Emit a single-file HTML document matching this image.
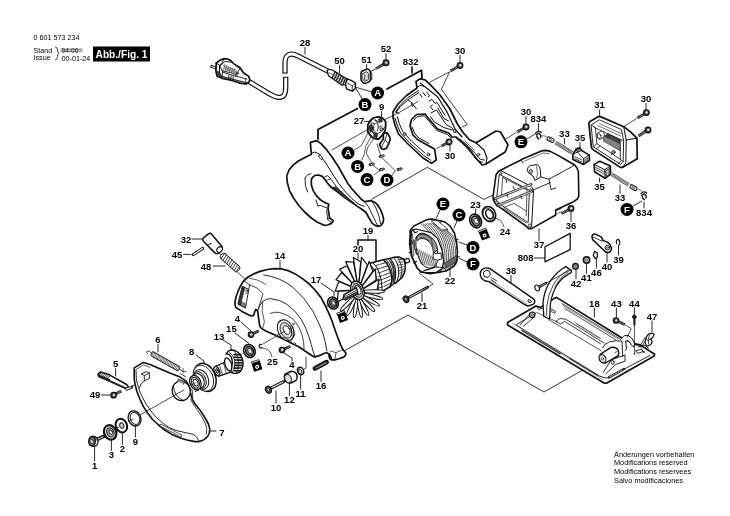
<!DOCTYPE html>
<html><head><meta charset="utf-8"><title>0 601 573 234</title>
<style>
html,body{margin:0;padding:0;background:#fff;}
body{width:730px;height:516px;overflow:hidden;position:relative;font-family:"Liberation Sans",sans-serif;}
svg{position:absolute;left:0;top:0;display:block;filter:grayscale(1);}
svg text{font-family:"Liberation Sans",sans-serif;}
</style></head><body>
<svg width="730" height="516" viewBox="0 0 730 516" stroke-linejoin="round" stroke-linecap="round">
<text x="33.5" y="40.3" font-size="7.2" font-weight="normal" text-anchor="start" fill="#000">0 601 573 234</text>
<text x="33.5" y="53.2" font-size="7.2" font-weight="normal" text-anchor="start" fill="#000">Stand</text>
<text x="33.5" y="60.4" font-size="7.2" font-weight="normal" text-anchor="start" fill="#000">Issue</text>
<text x="61.5" y="53.4" font-size="6.6" font-weight="normal" text-anchor="start" fill="#333">94-06</text>
<polyline points="61,49.2 82,49.2" fill="none" stroke="#333" stroke-width="0.75" />
<polyline points="61,51.2 82,51.2" fill="none" stroke="#333" stroke-width="0.75" />
<text x="61.5" y="60.8" font-size="7.2" font-weight="normal" text-anchor="start" fill="#000">00-01-24</text>
<path d="M55.5,47 q2.2,0.3 2,3 q-0.2,2.6 1.6,3.2 q-1.8,0.6 -1.6,3.2 q0.2,3 -2,3.6" fill="none" stroke="#111" stroke-width="0.8" />
<rect x="93" y="46.5" width="57" height="15" fill="#000"/>
<g transform="translate(121.5 0) scale(0.9 1)">
<text x="0" y="58.3" font-size="11.3" font-weight="bold" text-anchor="middle" fill="#fff">Abb./Fig. 1</text>
</g>
<text x="614" y="456.6" font-size="7.35" font-weight="normal" text-anchor="start" fill="#000">Änderungen vorbehalten</text>
<text x="614" y="465.3" font-size="7.35" font-weight="normal" text-anchor="start" fill="#000">Modifications reserved</text>
<text x="614" y="474.0" font-size="7.35" font-weight="normal" text-anchor="start" fill="#000">Modifications reservees</text>
<text x="614" y="482.7" font-size="7.35" font-weight="normal" text-anchor="start" fill="#000">Salvo modificaciones</text>
<polyline points="372,199 427.3,167.3 484,199.4 494,194.5" fill="none" stroke="#111" stroke-width="0.85" />
<polyline points="345,350.5 408,315 544,392 604,358" fill="none" stroke="#111" stroke-width="0.85" />
<text x="305" y="46.4" font-size="9.5" font-weight="bold" text-anchor="middle" fill="#000">28</text>
<polyline points="305,47.5 305,54" fill="none" stroke="#111" stroke-width="0.9" />
<text x="339.6" y="64.4" font-size="9.5" font-weight="bold" text-anchor="middle" fill="#000">50</text>
<polyline points="339.6,65.5 339.6,73" fill="none" stroke="#111" stroke-width="0.9" />
<text x="366.6" y="63.4" font-size="9.5" font-weight="bold" text-anchor="middle" fill="#000">51</text>
<polyline points="366.6,64.5 366.6,70" fill="none" stroke="#111" stroke-width="0.9" />
<text x="386" y="52.4" font-size="9.5" font-weight="bold" text-anchor="middle" fill="#000">52</text>
<polyline points="386,53.5 386,60" fill="none" stroke="#111" stroke-width="0.9" />
<text x="410.6" y="65.4" font-size="9.5" font-weight="bold" text-anchor="middle" fill="#000">832</text>
<text x="460" y="53.9" font-size="9.5" font-weight="bold" text-anchor="middle" fill="#000">30</text>
<polyline points="460,55.5 460,62.5" fill="none" stroke="#111" stroke-width="0.9" />
<text x="381.6" y="110.4" font-size="9.5" font-weight="bold" text-anchor="middle" fill="#000">9</text>
<polyline points="381.6,111.5 381.6,118" fill="none" stroke="#111" stroke-width="0.9" />
<text x="359" y="124.4" font-size="9.5" font-weight="bold" text-anchor="middle" fill="#000">27</text>
<polyline points="364.5,121.4 370,121.4" fill="none" stroke="#111" stroke-width="0.9" />
<text x="450" y="159.0" font-size="9.5" font-weight="bold" text-anchor="middle" fill="#000">30</text>
<polyline points="450,145 450,151" fill="none" stroke="#111" stroke-width="0.9" />
<text x="526" y="115.0" font-size="9.5" font-weight="bold" text-anchor="middle" fill="#000">30</text>
<polyline points="526,116.5 526,124" fill="none" stroke="#111" stroke-width="0.9" />
<text x="538.4" y="122.0" font-size="9.5" font-weight="bold" text-anchor="middle" fill="#000">834</text>
<polyline points="538.4,123.5 538.4,131" fill="none" stroke="#111" stroke-width="0.9" />
<text x="564.4" y="137.0" font-size="9.5" font-weight="bold" text-anchor="middle" fill="#000">33</text>
<polyline points="564.4,138.5 564.4,144" fill="none" stroke="#111" stroke-width="0.9" />
<text x="580" y="141.4" font-size="9.5" font-weight="bold" text-anchor="middle" fill="#000">35</text>
<polyline points="580,142.6 580,148" fill="none" stroke="#111" stroke-width="0.9" />
<text x="599.6" y="108.4" font-size="9.5" font-weight="bold" text-anchor="middle" fill="#000">31</text>
<polyline points="599.6,110 599.6,116" fill="none" stroke="#111" stroke-width="0.9" />
<text x="646" y="102.0" font-size="9.5" font-weight="bold" text-anchor="middle" fill="#000">30</text>
<polyline points="646,103.5 646,110" fill="none" stroke="#111" stroke-width="0.9" />
<text x="599.6" y="189.8" font-size="9.5" font-weight="bold" text-anchor="middle" fill="#000">35</text>
<polyline points="599.6,178 599.6,182" fill="none" stroke="#111" stroke-width="0.9" />
<text x="620" y="201.4" font-size="9.5" font-weight="bold" text-anchor="middle" fill="#000">33</text>
<polyline points="620,185 620,193.5" fill="none" stroke="#111" stroke-width="0.9" />
<text x="644" y="215.8" font-size="9.5" font-weight="bold" text-anchor="middle" fill="#000">834</text>
<polyline points="644,202 644,208" fill="none" stroke="#111" stroke-width="0.9" />
<text x="571" y="229.4" font-size="9.5" font-weight="bold" text-anchor="middle" fill="#000">36</text>
<polyline points="571,212 571,221.5" fill="none" stroke="#111" stroke-width="0.9" />
<text x="539" y="248.4" font-size="9.5" font-weight="bold" text-anchor="middle" fill="#000">37</text>
<polyline points="539,229 539,240.5" fill="none" stroke="#111" stroke-width="0.9" />
<text x="525.6" y="261.4" font-size="9.5" font-weight="bold" text-anchor="middle" fill="#000">808</text>
<polyline points="534.5,258 544.5,258" fill="none" stroke="#111" stroke-width="0.9" />
<text x="511" y="274.4" font-size="9.5" font-weight="bold" text-anchor="middle" fill="#000">38</text>
<polyline points="511,275.5 511,284" fill="none" stroke="#111" stroke-width="0.9" />
<text x="576" y="287.0" font-size="9.5" font-weight="bold" text-anchor="middle" fill="#000">42</text>
<polyline points="576,269 576,279" fill="none" stroke="#111" stroke-width="0.9" />
<text x="586.4" y="281.4" font-size="9.5" font-weight="bold" text-anchor="middle" fill="#000">41</text>
<polyline points="586.4,264 586.4,273.5" fill="none" stroke="#111" stroke-width="0.9" />
<text x="596.4" y="275.8" font-size="9.5" font-weight="bold" text-anchor="middle" fill="#000">46</text>
<polyline points="596.4,258.5 596.4,268" fill="none" stroke="#111" stroke-width="0.9" />
<text x="607" y="270.0" font-size="9.5" font-weight="bold" text-anchor="middle" fill="#000">40</text>
<polyline points="607,252 607,262" fill="none" stroke="#111" stroke-width="0.9" />
<text x="618.5" y="262.9" font-size="9.5" font-weight="bold" text-anchor="middle" fill="#000">39</text>
<polyline points="618.5,245 618.5,255" fill="none" stroke="#111" stroke-width="0.9" />
<text x="594.4" y="307.0" font-size="9.5" font-weight="bold" text-anchor="middle" fill="#000">18</text>
<polyline points="594.4,308 594.4,317" fill="none" stroke="#111" stroke-width="0.9" />
<text x="616.4" y="307.0" font-size="9.5" font-weight="bold" text-anchor="middle" fill="#000">43</text>
<polyline points="616.4,308 616.4,317" fill="none" stroke="#111" stroke-width="0.9" />
<text x="634.4" y="307.0" font-size="9.5" font-weight="bold" text-anchor="middle" fill="#000">44</text>
<polyline points="634.4,308 634.4,315" fill="none" stroke="#111" stroke-width="0.9" />
<text x="652" y="319.8" font-size="9.5" font-weight="bold" text-anchor="middle" fill="#000">47</text>
<polyline points="652,321 652,332" fill="none" stroke="#111" stroke-width="0.9" />
<text x="475.6" y="208.0" font-size="9.5" font-weight="bold" text-anchor="middle" fill="#000">23</text>
<polyline points="475.6,209 475.6,214" fill="none" stroke="#111" stroke-width="0.9" />
<text x="505" y="235.4" font-size="9.5" font-weight="bold" text-anchor="middle" fill="#000">24</text>
<text x="450" y="284.4" font-size="9.5" font-weight="bold" text-anchor="middle" fill="#000">22</text>
<polyline points="450,269 450,276.5" fill="none" stroke="#111" stroke-width="0.9" />
<text x="368" y="234.4" font-size="9.5" font-weight="bold" text-anchor="middle" fill="#000">19</text>
<polyline points="368,235.5 368,240" fill="none" stroke="#111" stroke-width="0.9" />
<text x="358" y="252.0" font-size="9.5" font-weight="bold" text-anchor="middle" fill="#000">20</text>
<polyline points="358,253 358,259" fill="none" stroke="#111" stroke-width="0.9" />
<text x="422" y="309.4" font-size="9.5" font-weight="bold" text-anchor="middle" fill="#000">21</text>
<polyline points="422,293 422,301.5" fill="none" stroke="#111" stroke-width="0.9" />
<text x="316" y="283.4" font-size="9.5" font-weight="bold" text-anchor="middle" fill="#000">17</text>
<polyline points="321,283 334,292 334,296" fill="none" stroke="#111" stroke-width="0.9" />
<text x="280" y="259.4" font-size="9.5" font-weight="bold" text-anchor="middle" fill="#000">14</text>
<polyline points="280,260.5 280,268" fill="none" stroke="#111" stroke-width="0.9" />
<text x="186" y="242.8" font-size="9.5" font-weight="bold" text-anchor="middle" fill="#000">32</text>
<polyline points="192,239 203,239" fill="none" stroke="#111" stroke-width="0.9" />
<text x="177" y="258.0" font-size="9.5" font-weight="bold" text-anchor="middle" fill="#000">45</text>
<polyline points="183.6,254.4 191,254.4" fill="none" stroke="#111" stroke-width="0.9" />
<text x="206" y="270.0" font-size="9.5" font-weight="bold" text-anchor="middle" fill="#000">48</text>
<polyline points="213,266 225,266" fill="none" stroke="#111" stroke-width="0.9" />
<text x="237.4" y="322.0" font-size="9.5" font-weight="bold" text-anchor="middle" fill="#000">4</text>
<polyline points="241,322 251,331" fill="none" stroke="#111" stroke-width="0.9" />
<text x="231.4" y="332.0" font-size="9.5" font-weight="bold" text-anchor="middle" fill="#000">15</text>
<polyline points="235,333 249,343.5" fill="none" stroke="#111" stroke-width="0.9" />
<text x="219" y="340.4" font-size="9.5" font-weight="bold" text-anchor="middle" fill="#000">13</text>
<polyline points="223,340 231,345 231,350" fill="none" stroke="#111" stroke-width="0.9" />
<text x="191.6" y="354.8" font-size="9.5" font-weight="bold" text-anchor="middle" fill="#000">8</text>
<polyline points="196,355 204,361 204,365" fill="none" stroke="#111" stroke-width="0.9" />
<text x="158" y="343.4" font-size="9.5" font-weight="bold" text-anchor="middle" fill="#000">6</text>
<polyline points="158,344.5 158,352" fill="none" stroke="#111" stroke-width="0.9" />
<text x="115.6" y="367.4" font-size="9.5" font-weight="bold" text-anchor="middle" fill="#000">5</text>
<polyline points="115.6,368.5 115.6,376" fill="none" stroke="#111" stroke-width="0.9" />
<text x="95" y="398.4" font-size="9.5" font-weight="bold" text-anchor="middle" fill="#000">49</text>
<polyline points="101.5,395 110,395" fill="none" stroke="#111" stroke-width="0.9" />
<text x="272.4" y="364.7" font-size="9.5" font-weight="bold" text-anchor="middle" fill="#000">25</text>
<text x="292" y="368.4" font-size="9.5" font-weight="bold" text-anchor="middle" fill="#000">4</text>
<polyline points="284,353 292,358 292,361" fill="none" stroke="#111" stroke-width="0.9" />
<text x="276" y="411.0" font-size="9.5" font-weight="bold" text-anchor="middle" fill="#000">10</text>
<polyline points="276,391 276,403" fill="none" stroke="#111" stroke-width="0.9" />
<text x="289.4" y="403.4" font-size="9.5" font-weight="bold" text-anchor="middle" fill="#000">12</text>
<polyline points="289.4,383 289.4,395.5" fill="none" stroke="#111" stroke-width="0.9" />
<text x="300.6" y="397.0" font-size="9.5" font-weight="bold" text-anchor="middle" fill="#000">11</text>
<polyline points="300.6,376 300.6,389" fill="none" stroke="#111" stroke-width="0.9" />
<text x="321" y="389.4" font-size="9.5" font-weight="bold" text-anchor="middle" fill="#000">16</text>
<polyline points="321,371 321,381.5" fill="none" stroke="#111" stroke-width="0.9" />
<text x="222" y="436.4" font-size="9.5" font-weight="bold" text-anchor="middle" fill="#000">7</text>
<polyline points="210,431 216,431" fill="none" stroke="#111" stroke-width="0.9" />
<text x="94.6" y="469.0" font-size="9.5" font-weight="bold" text-anchor="middle" fill="#000">1</text>
<polyline points="94.6,447 94.6,461" fill="none" stroke="#111" stroke-width="0.9" />
<text x="111.4" y="458.4" font-size="9.5" font-weight="bold" text-anchor="middle" fill="#000">3</text>
<polyline points="111.4,440 111.4,450.5" fill="none" stroke="#111" stroke-width="0.9" />
<text x="122.4" y="452.4" font-size="9.5" font-weight="bold" text-anchor="middle" fill="#000">2</text>
<polyline points="122.4,433 122.4,444.5" fill="none" stroke="#111" stroke-width="0.9" />
<text x="135.4" y="445.0" font-size="9.5" font-weight="bold" text-anchor="middle" fill="#000">9</text>
<polyline points="135.4,426 135.4,437" fill="none" stroke="#111" stroke-width="0.9" />
<path d="M495,218 q7,1 9,9" fill="none" stroke="#111" stroke-width="0.7" />
<path d="M262,348 q8,0 10,8.5" fill="none" stroke="#111" stroke-width="0.7" />
<polyline points="412,67 412,73" fill="none" stroke="#111" stroke-width="1.6" />
<polyline points="387,89 421.5,70.3 422,78" fill="none" stroke="#111" stroke-width="1.8" />
<polyline points="357.5,108.5 318,129.5 318,139" fill="none" stroke="#111" stroke-width="1.8" />
<polyline points="358,245 358,240 376,240 376,261" fill="none" stroke="#111" stroke-width="1.5" />
<polyline points="355,87 370.5,91.6" fill="none" stroke="#111" stroke-width="0.85" />
<polyline points="355.5,88 362.4,99" fill="none" stroke="#111" stroke-width="0.85" />
<circle cx="377.6" cy="93" r="6.5" fill="#000"/>
<text x="377.6" y="96.4" font-size="9.5" font-weight="bold" text-anchor="middle" fill="#fff">A</text>
<circle cx="365" cy="104.6" r="6.5" fill="#000"/>
<text x="365" y="108.0" font-size="9.5" font-weight="bold" text-anchor="middle" fill="#fff">B</text>
<circle cx="348" cy="153" r="6.5" fill="#000"/>
<text x="348" y="156.4" font-size="9.5" font-weight="bold" text-anchor="middle" fill="#fff">A</text>
<circle cx="357.6" cy="166.4" r="6.5" fill="#000"/>
<text x="357.6" y="169.8" font-size="9.5" font-weight="bold" text-anchor="middle" fill="#fff">B</text>
<circle cx="367" cy="179.6" r="6.5" fill="#000"/>
<text x="367" y="183.0" font-size="9.5" font-weight="bold" text-anchor="middle" fill="#fff">C</text>
<circle cx="387" cy="180" r="6.5" fill="#000"/>
<text x="387" y="183.4" font-size="9.5" font-weight="bold" text-anchor="middle" fill="#fff">D</text>
<circle cx="521" cy="141.8" r="6.5" fill="#000"/>
<text x="521" y="145.20000000000002" font-size="9.5" font-weight="bold" text-anchor="middle" fill="#fff">E</text>
<circle cx="627" cy="209.4" r="6.5" fill="#000"/>
<text x="627" y="212.8" font-size="9.5" font-weight="bold" text-anchor="middle" fill="#fff">F</text>
<circle cx="443" cy="204" r="6.5" fill="#000"/>
<text x="443" y="207.4" font-size="9.5" font-weight="bold" text-anchor="middle" fill="#fff">E</text>
<circle cx="459" cy="215" r="6.5" fill="#000"/>
<text x="459" y="218.4" font-size="9.5" font-weight="bold" text-anchor="middle" fill="#fff">C</text>
<circle cx="473" cy="247.4" r="6.5" fill="#000"/>
<text x="473" y="250.8" font-size="9.5" font-weight="bold" text-anchor="middle" fill="#fff">D</text>
<circle cx="473" cy="264" r="6.5" fill="#000"/>
<text x="473" y="267.4" font-size="9.5" font-weight="bold" text-anchor="middle" fill="#fff">F</text>
<polyline points="527,139 535,134" fill="none" stroke="#111" stroke-width="0.85" />
<polyline points="633,206 642,201" fill="none" stroke="#111" stroke-width="0.85" />
<polyline points="440,210 436,219" fill="none" stroke="#111" stroke-width="0.85" />
<polyline points="457,221 454,228" fill="none" stroke="#111" stroke-width="0.85" />
<polyline points="467,245 459,242" fill="none" stroke="#111" stroke-width="0.85" />
<polyline points="467,262 459,258" fill="none" stroke="#111" stroke-width="0.85" />
<path d="M249,81.5 L268,93 C277,98.6 285.6,100.6 285.7,88 L285.7,77" fill="none" stroke="#111" stroke-width="5.3" stroke-linecap="butt"/>
<path d="M249,81.5 L268,93 C277,98.6 285.6,100.6 285.7,88 L285.7,77" fill="none" stroke="#fff" stroke-width="2.9" stroke-linecap="butt"/>
<path d="M285,73.2 L285,63 C285,54.6 290,51.8 298,56 L329,71.6" fill="none" stroke="#111" stroke-width="5.3" stroke-linecap="butt"/>
<path d="M285,73.2 L285,63 C285,54.6 290,51.8 298,56 L329,71.6" fill="none" stroke="#fff" stroke-width="2.9" stroke-linecap="butt"/>
<polyline points="283.6,77.2 287.8,77.2" fill="none" stroke="#111" stroke-width="1.1" />
<polyline points="282.9,73 287.1,73" fill="none" stroke="#111" stroke-width="1.1" />
<polyline points="211.6,66.4 218.4,69" fill="none" stroke="#111" stroke-width="2.9" />
<polyline points="211.8,66.5 218.4,69" fill="none" stroke="#fff" stroke-width="1.2" />
<polyline points="216.6,63.2 219,64.4" fill="none" stroke="#111" stroke-width="2.4" />
<path d="M216.3,63.1 L219.4,60.5 L223.7,58.7 L227.6,59 L230.7,60.5 L233.8,64 L239.9,67.4 L243.4,72.7 L248.6,76.2 L249.9,80 L248.6,82.4 L246,84 L239.9,83.1 L233.8,81 L228.5,79.6 L222.4,78.3 L217.2,76.2 L216.4,73.6 L215.9,70.9 Z" fill="#fff" stroke="#111" stroke-width="1.7" />
<path d="M216.3,63.1 L219.6,65.4 L219.4,72 L217.2,76.2 M219.6,65.4 L222.4,62.4 L223.7,58.7 M219.4,72 L222.4,78.3" fill="none" stroke="#111" stroke-width="1.0" />
<path d="M216.6,70.6 L219.2,72.2 L221.6,78 L217.4,76 Z" fill="#444" stroke="#111" stroke-width="0.5" />
<path d="M220.3,65.7 L225,61.3 L231.2,62.2 L239.9,68.7 L236,74.4 L230.3,72.7 L222.4,70.9 Z" fill="#fff" stroke="#111" stroke-width="0.9" />
<polyline points="225.0,64.0 223.4,70.0" fill="none" stroke="#555" stroke-width="0.75" />
<polyline points="226.9,65.1 225.4,70.75" fill="none" stroke="#555" stroke-width="0.75" />
<polyline points="228.8,66.2 227.4,71.5" fill="none" stroke="#555" stroke-width="0.75" />
<polyline points="230.7,67.3 229.4,72.25" fill="none" stroke="#555" stroke-width="0.75" />
<polyline points="232.6,68.4 231.4,73.0" fill="none" stroke="#555" stroke-width="0.75" />
<polyline points="234.5,69.5 233.4,73.75" fill="none" stroke="#555" stroke-width="0.75" />
<polyline points="223.6,65.6 236.4,70.2" fill="none" stroke="#555" stroke-width="0.75" />
<polyline points="224.1,67.3 236.6,71.7" fill="none" stroke="#555" stroke-width="0.75" />
<polyline points="224.6,69.0 236.8,73.2" fill="none" stroke="#555" stroke-width="0.75" />
<circle cx="237.3" cy="73.4" r="1.1" fill="#555" stroke="#111" stroke-width="0.6"/>
<path d="M222.4,70.9 L222.4,78.3 M222.4,72 L230.3,74.6 L236,76.2 L246.8,79 M236,74.4 L236,76.2 M239.9,68.7 L243.4,72.7" fill="none" stroke="#111" stroke-width="0.9" />
<path d="M228.8,75.4 L228.6,79.4 M231,76 L230.8,80 M233.2,76.6 L233,80.6" fill="none" stroke="#111" stroke-width="0.9" />
<path d="M222.8,76.6 L233,79.4 L246,82.6" fill="none" stroke="#333" stroke-width="1.4" />
<polyline points="245.4,78.4 246.4,84" fill="none" stroke="#111" stroke-width="0.8" />
<g transform="translate(0 1.2)">
<path d="M327,68.8 L331.5,68.3 L347.5,78 L346,83.5 L342,84 L328.5,74.6 Z" fill="#fff" stroke="#111" stroke-width="1.2" />
<polyline points="335.2,70.5 332.4,76.3" fill="none" stroke="#222" stroke-width="1.5" />
<polyline points="337.3,71.85 334.5,77.64999999999999" fill="none" stroke="#222" stroke-width="1.5" />
<polyline points="339.4,73.2 336.59999999999997,79.0" fill="none" stroke="#222" stroke-width="1.5" />
<polyline points="341.5,74.55 338.7,80.35" fill="none" stroke="#222" stroke-width="1.5" />
<polyline points="343.59999999999997,75.9 340.79999999999995,81.7" fill="none" stroke="#222" stroke-width="1.5" />
<polyline points="345.7,77.25 342.9,83.05" fill="none" stroke="#222" stroke-width="1.5" />
<polyline points="329,71.5 346,81.5" fill="none" stroke="#555" stroke-width="0.75" />
<path d="M347.6,77.6 L352.6,80 L355.6,82.2 L355.2,87.2 L352.2,90 L346.6,87.6 L345.4,82.4 Z" fill="#fff" stroke="#111" stroke-width="1.4" />
<polyline points="352.2,90 352.4,84.6 355.6,82.2" fill="none" stroke="#111" stroke-width="0.8" />
<polyline points="352.4,84.6 347,81.6" fill="none" stroke="#111" stroke-width="0.8" />
</g>
<path d="M361,73 Q361,71.6 362.4,71 L366.6,69.2 Q368.4,68.8 369.4,70.2 L370.4,72 L370.4,80 L369.4,81.6 L365.6,83.4 Q364,83.6 363,82.4 L361,80 Z" fill="#fff" stroke="#111" stroke-width="1.5" />
<path d="M362.4,73.6 L366.8,71.6 L368.4,73.6 L368.4,79.6 L364.8,81.4 L362.4,79 Z" fill="#ddd" stroke="#111" stroke-width="0.8" />
<path d="M364.4,74.6 q1.6,1.6 0.2,3 q-1,1.4 0.6,2.6" fill="none" stroke="#111" stroke-width="0.8" />
<polyline points="370,71.8 375.5,69" fill="none" stroke="#111" stroke-width="0.85" />
<polyline points="371.8,72.6 371.8,79" fill="none" stroke="#111" stroke-width="0.85" />
<polyline points="370.6,79.6 371.8,79" fill="none" stroke="#111" stroke-width="0.85" />
<line x1="384.0" y1="64.0" x2="376" y2="68.6" stroke="#1a1a1a" stroke-width="2.7" stroke-linecap="butt"/>
<line x1="382.7" y1="64.7" x2="376" y2="68.6" stroke="#bbb" stroke-width="1.22" stroke-linecap="butt" stroke-dasharray="0.7 0.7"/>
<circle cx="386" cy="62.8" r="2.9" fill="#444" stroke="#111" stroke-width="1.1"/>
<circle cx="386.3" cy="62.599999999999994" r="1.22" fill="#ddd"/>
<line x1="458.0" y1="66.7" x2="450.5" y2="71" stroke="#1a1a1a" stroke-width="2.7" stroke-linecap="butt"/>
<line x1="456.7" y1="67.4" x2="450.5" y2="71" stroke="#bbb" stroke-width="1.22" stroke-linecap="butt" stroke-dasharray="0.7 0.7"/>
<circle cx="460" cy="65.5" r="2.9" fill="#444" stroke="#111" stroke-width="1.1"/>
<circle cx="460.3" cy="65.3" r="1.22" fill="#ddd"/>
<polyline points="449.5,72 430,82" fill="none" stroke="#111" stroke-width="0.75" />
<polyline points="449.5,72 441.5,89" fill="none" stroke="#111" stroke-width="0.75" />
<line x1="447.0" y1="143.1" x2="441.5" y2="146" stroke="#1a1a1a" stroke-width="2.7" stroke-linecap="butt"/>
<line x1="445.6" y1="143.8" x2="441.5" y2="146" stroke="#bbb" stroke-width="1.22" stroke-linecap="butt" stroke-dasharray="0.7 0.7"/>
<circle cx="449" cy="142" r="2.9" fill="#444" stroke="#111" stroke-width="1.1"/>
<circle cx="449.3" cy="141.8" r="1.22" fill="#ddd"/>
<polyline points="440.5,146.5 437,148.3" fill="none" stroke="#111" stroke-width="0.75" />
<line x1="524.0" y1="128.1" x2="517" y2="132" stroke="#1a1a1a" stroke-width="2.7" stroke-linecap="butt"/>
<line x1="522.7" y1="128.9" x2="517" y2="132" stroke="#bbb" stroke-width="1.22" stroke-linecap="butt" stroke-dasharray="0.7 0.7"/>
<circle cx="526" cy="127" r="2.9" fill="#444" stroke="#111" stroke-width="1.1"/>
<circle cx="526.3" cy="126.8" r="1.22" fill="#ddd"/>
<polyline points="516,132.6 506,139" fill="none" stroke="#111" stroke-width="0.75" />
<line x1="644.4" y1="113.8" x2="637.5" y2="118" stroke="#1a1a1a" stroke-width="2.7" stroke-linecap="butt"/>
<line x1="643.1" y1="114.6" x2="637.5" y2="118" stroke="#bbb" stroke-width="1.22" stroke-linecap="butt" stroke-dasharray="0.7 0.7"/>
<circle cx="646.4" cy="112.6" r="2.9" fill="#444" stroke="#111" stroke-width="1.1"/>
<circle cx="646.6999999999999" cy="112.39999999999999" r="1.22" fill="#ddd"/>
<polyline points="636.5,118.6 624,126.4" fill="none" stroke="#111" stroke-width="0.75" />
<line x1="646.0" y1="131.2" x2="638.5" y2="136" stroke="#1a1a1a" stroke-width="2.7" stroke-linecap="butt"/>
<line x1="644.8" y1="132.0" x2="638.5" y2="136" stroke="#bbb" stroke-width="1.22" stroke-linecap="butt" stroke-dasharray="0.7 0.7"/>
<circle cx="648" cy="130" r="2.9" fill="#444" stroke="#111" stroke-width="1.1"/>
<circle cx="648.3" cy="129.8" r="1.22" fill="#ddd"/>
<polyline points="441.3,89.3 467.3,124.7 462,127" fill="none" stroke="#111" stroke-width="0.8" />
<path d="M416,81.4 L420.2,78.8 L425.2,80 L430,84.4 L440,95 L450,109 L457.4,124 L463,132.5 L469.5,139.8 L476,142.8 L480,140.6 L496,131 L500.5,132 L508,145 L505.2,152 L486,164 L482,165 L476,158 L468,148 L461,141.5 L456,137 L452,137 L448.7,133 L437.6,129 L429,119 L425,114 L416.5,114.5 L411.5,119.5 L410,126 L413,135 L417.5,139.5 L428,145.4 L434.6,149 L436.2,160 L431.5,163.4 L423,158 L408,144 L398.5,134 L395,125 L393,117.6 L393,111.7 L398,104 L406.6,95.5 L417,88 Z" fill="#fff" stroke="#111" stroke-width="1.7" />
<path d="M420.2,83 L437.6,96.8 L447.5,112.9 L455,129 L462,137" fill="none" stroke="#111" stroke-width="1.2" />
<path d="M417.5,87 L421,85 L423.5,86.5" fill="none" stroke="#111" stroke-width="1.0" />
<path d="M418.5,90.5 L408,97.5 L400,105.5 L395.5,112 L399,113.4 M396,112.6 L400.5,106.5 L409,99 L419,92.4" fill="none" stroke="#111" stroke-width="1.0" />
<path d="M395,118 L397.2,125 L400.6,133 L409.5,142.6 L423.5,155.4 L431,160.4 M397.4,117 L399.4,124 L402.8,131.6 L411.4,141 L424.6,152.8" fill="none" stroke="#111" stroke-width="1.0" />
<path d="M413.6,120.4 L417.4,116.4 L424.4,115.8 L428,120 L436.8,130.4 L447.6,134.6 L451.4,138.6 M412,127 L415,134 L419,138 L429,143.6" fill="none" stroke="#111" stroke-width="1.0" />
<path d="M420,94 l2,3 M423,92.6 l2.4,3.2 M426.6,92 l3.2,3.6 l-1.4,1 M408,100 l3.4,2.4 l1,4 M411.4,102.4 l5,6.4 M429,101 l3,-1.6 l3,4 l2,-1 l8,13 M432.4,105 l-2,1.4 l2.6,3.6 M437.8,108 l6,10.5 l4.6,2.4" fill="none" stroke="#111" stroke-width="1.0" />
<path d="M431,113 L436.5,110 L446,124.5 L451.5,127.5 L456,133" fill="none" stroke="#111" stroke-width="1.0" />
<path d="M430.6,116.6 L434.2,122 L444,127.6 L452,130" fill="none" stroke="#111" stroke-width="1.0" />
<circle cx="404.6" cy="134" r="1.4" fill="#aaa" stroke="#111" stroke-width="0.7"/>
<circle cx="454.8" cy="131" r="1.6" fill="#aaa" stroke="#111" stroke-width="0.7"/>
<circle cx="428.4" cy="154.4" r="1.5" fill="#aaa" stroke="#111" stroke-width="0.7"/>
<circle cx="478.6" cy="154.6" r="1.3" fill="#ccc" stroke="#111" stroke-width="0.7"/>
<path d="M456,137.6 L462.6,143.6 L470,151.4 L477,160.4 L482.4,162.4 M460,139 L467.4,145.4 L475,153.4 L480.4,159.4 L484.4,160" fill="none" stroke="#111" stroke-width="1.0" />
<path d="M476,142.8 L484,150 L487,158 L486,164" fill="none" stroke="#111" stroke-width="1.2" />
<path d="M463.5,142 L473,151.6 M465,141 L474.4,150.4" fill="none" stroke="#111" stroke-width="0.7" />
<path d="M310.4,142.4 L316.8,140.6 L321,143.6 L325.9,148.8 L332,157 L338.6,167 L343,175 L347.8,183.4 L352,189 L356.9,194.3 L361,199 L364.4,201.6 L371.4,200.7 L375,202.4 L377.8,205.2 L380.5,209.6 L382.4,214.3 L383.6,219 L383,222.6 L381.2,225.2 L378.4,226.4 L375,225.4 L372.3,223.4 L369,218 L366,212.5 L361.5,209 L356.9,206.1 L350,201 L344.1,197 L338.5,192.5 L333.2,188.8 L330,186 L327.7,183.4 L325,179.6 L322.3,176.4 L318.6,175 L315,175.4 L312.6,177.2 L311.3,179.9 L311.4,185 L313.1,190.6 L316.4,195.6 L320.4,199.8 L324.4,202.4 L328.8,204.3 L328,208 L329.6,218 L333.4,220.7 L331.4,223.4 L327.6,225 L324.1,225.3 L317,222 L311.3,218 L304.6,212 L298.6,205.2 L293.5,198 L289.5,190.6 L287.4,183 L286.7,176 L289,170 L293.1,165.1 L298.4,161 L304,157.9 L311.4,154.2 L310.8,148 Z" fill="#fff" stroke="#111" stroke-width="1.7" />
<path d="M311.6,153.4 L314.6,152 L319.4,154 L325.9,163.3 L332,173 L338.6,183.4 L346,192.5 L352,198.6 L358,203.8 L364,206.4" fill="none" stroke="#111" stroke-width="1.0" />
<path d="M364.4,201.6 L368,206 L372,214 L376,222.5 L378.4,226.4 M371.4,200.7 L375.5,207 L379,216 L380.6,224" fill="none" stroke="#111" stroke-width="0.9" />
<ellipse cx="320.6" cy="157.2" rx="1.2" ry="2.6" transform="rotate(-35 320.6 157.2)" fill="#fff" stroke="#111" stroke-width="0.8"/>
<path d="M332.6,187.4 L338,188.6 L344,194 L350,199.4 L357,205.6 L350,201.4 L344.1,197.4 L338.5,193 Z" fill="#333" stroke="#111" stroke-width="0.6" />
<path d="M327.6,180 L330.5,178.6 L336.4,186.6 L332.8,188 M325,176.8 L327.8,175.6 L330.5,178.6" fill="none" stroke="#111" stroke-width="0.9" />
<path d="M333,188 q3,-2.4 5.4,0.4" fill="none" stroke="#111" stroke-width="0.9" />
<path d="M305,178.6 q1.4,-4.4 6,-5 M305,178.6 q-0.6,7 2.6,13.4" fill="none" stroke="#111" stroke-width="0.9" />
<path d="M316,200 L318,206 M328,208.4 L320,205.2 L318,206 M329.6,218 L327.6,219.4 L326.6,210 M327.6,219.4 L331,222.4" fill="none" stroke="#111" stroke-width="0.9" />
<polyline points="332,150 384,120 400,112 418,101.5" fill="none" stroke="#111" stroke-width="0.75" />
<path d="M367.8,133.6 Q364.5,139 361.6,145.2 Q358.6,148.4 354.6,149.4" fill="none" stroke="#111" stroke-width="0.7" />
<path d="M371,136.7 L365.5,146.8 L364.6,153.4 L361.8,160" fill="none" stroke="#111" stroke-width="0.7" />
<path d="M373.3,139 L367.4,148 L366.4,153.6 L373,164.8" fill="none" stroke="#111" stroke-width="0.7" />
<path d="M373.4,165.6 L379.5,170.4 M380,170.6 L374.6,174.4" fill="none" stroke="#111" stroke-width="0.7" />
<path d="M377,144 L380.6,155.4 M381.2,157 L394.6,170 M395.4,170.4 L392,175.6" fill="none" stroke="#111" stroke-width="0.7" />
<g transform="translate(371.6 164.4) rotate(-15)"><rect x="-2.6" y="-0.9" width="5.2" height="1.8" rx="0.9" fill="#fff" stroke="#111" stroke-width="0.9"/><circle cx="-1.2" cy="0" r="0.5" fill="#111"/><circle cx="1.3" cy="0" r="0.5" fill="#111"/></g>
<g transform="translate(382 169.4) rotate(-15)"><rect x="-2.6" y="-0.9" width="5.2" height="1.8" rx="0.9" fill="#fff" stroke="#111" stroke-width="0.9"/><circle cx="-1.2" cy="0" r="0.5" fill="#111"/><circle cx="1.3" cy="0" r="0.5" fill="#111"/></g>
<g transform="translate(381.8 156.2) rotate(-15)"><rect x="-2.6" y="-0.9" width="5.2" height="1.8" rx="0.9" fill="#fff" stroke="#111" stroke-width="0.9"/><circle cx="-1.2" cy="0" r="0.5" fill="#111"/><circle cx="1.3" cy="0" r="0.5" fill="#111"/></g>
<g transform="translate(399.6 169.2) rotate(-15)"><rect x="-2.6" y="-0.9" width="5.2" height="1.8" rx="0.9" fill="#fff" stroke="#111" stroke-width="0.9"/><circle cx="-1.2" cy="0" r="0.5" fill="#111"/><circle cx="1.3" cy="0" r="0.5" fill="#111"/></g>
<path d="M367.8,125 L370,121 L373.3,118 L377,117 L381,117.3 L384,119.4 L385.7,122 L385.6,127 L384.9,131.3 L382,135.6 L378.7,139 L376,139 L373.3,138.2 L370,135 L367.8,132 Z" fill="#fff" stroke="#111" stroke-width="1.8" />
<path d="M370.5,121.4 L374,124 L377.6,122.6 L381.5,118 M374,124 L373.6,130 L369,128.6 M373.6,130 L377,133.6 L381,132 L384.6,127 M377,133.6 L376.6,138.6 M377.6,122.6 L378.4,127.4 L382,126 M378.4,127.4 L377.4,130.6" fill="none" stroke="#111" stroke-width="0.8" />
<circle cx="381.6" cy="129.4" r="1.6" fill="#ccc" stroke="#111" stroke-width="0.9"/>
<path d="M368.6,126.4 L371.6,123.4 L373.2,129.6 L370,132.6 Z" fill="#333" stroke="#111" stroke-width="0.5" />
<path d="M374.2,132.4 L377.4,134 L376.8,138.2 L373.8,136.8 Z" fill="#333" stroke="#111" stroke-width="0.5" />
<path d="M378.6,119 L381.4,118.4 L382.6,121.6 L379.4,122.6 Z" fill="#555" stroke="#111" stroke-width="0.5" />
<path d="M371,130.6 l3,2.6 M371.6,126.4 l1.6,1.2 M375,120 l2,1.4 M379.6,119.6 l1.6,1.6" fill="none" stroke="#222" stroke-width="1.5" />
<path d="M383.3,133.8 L387.2,132.8 L389,135.6 L390.3,139 L388.6,144 L386.4,148.3 L383.8,149.4 L381.8,149 L380.4,146.6 L379.5,144.4 L381.6,141.6 L383.3,139 Z" fill="#fff" stroke="#111" stroke-width="1.7" />
<path d="M387.2,132.8 L385.2,140 L382,146 L381.8,149 M385.2,140 L388.6,144" fill="none" stroke="#111" stroke-width="0.8" />
<path d="M535.6,133 q3,-3 5.6,-0.6 M536.2,134.6 l2.4,-1.4 M537.0,135.6 q-0.4,2.4 2,3.4 M539.0,133.6 q2.4,1 1.6,4" fill="none" stroke="#111" stroke-width="1.3" />
<path d="M541.3,135.7 Q545,135 547.7,137.6" fill="none" stroke="#555" stroke-width="0.9" />
<g transform="translate(550.6 139.6) rotate(25)"><rect x="-3.6" y="-2" width="7.2" height="4" rx="1.6" fill="#fff" stroke="#111" stroke-width="1"/><rect x="-2" y="-0.8" width="4" height="1.6" rx="0.8" fill="#bbb" stroke="#333" stroke-width="0.5"/></g>
<line x1="555.4" y1="142.3" x2="572.3" y2="152.9" stroke="#444" stroke-width="3.8" stroke-linecap="butt"/>
<line x1="555.4" y1="142.3" x2="572.3" y2="152.9" stroke="#e8e8e8" stroke-width="2.80" stroke-linecap="butt" stroke-dasharray="0.65 0.65"/>
<path d="M572.9,154.7 L576.2,149 L579.4,147.7 L581.9,150.6 L589.2,155.1 L589.6,160.4 L583.5,164.4 L572.9,159.5 Z" fill="#fff" stroke="#111" stroke-width="1.6" />
<path d="M572.9,154.7 L577.4,152 L583.6,158.6 L583.5,164.4 M583.6,158.6 L589.2,155.1 M577.4,152 L576.2,149 M577.4,152 L581.9,150.6" fill="none" stroke="#111" stroke-width="0.9" />
<path d="M574.6,156.6 L582,160 M574.6,158.6 L582,162" fill="none" stroke="#333" stroke-width="0.9" />
<path d="M585,159.4 L588,157.6 L588,160 L585,162 Z" fill="#bbb" stroke="#111" stroke-width="0.6" />
<circle cx="578.2" cy="150" r="1" fill="#fff" stroke="#111" stroke-width="0.7"/>
<path d="M594.1,164.4 L599.8,161.2 L610.4,166.1 L610.6,174.2 L605.1,178.3 L594.5,171.8 Z" fill="#fff" stroke="#111" stroke-width="1.6" />
<path d="M594.1,164.4 L604.7,169.7 L610.4,166.1 M604.7,169.7 L605.1,178.3" fill="none" stroke="#111" stroke-width="1.0" />
<path d="M595.6,167.4 L603.4,171.6 M595.8,169.6 L603.6,173.8" fill="none" stroke="#333" stroke-width="0.9" />
<path d="M606,170.6 L609.4,168.4 L609.4,173.6 L606.2,176 Z" fill="#999" stroke="#111" stroke-width="0.7" />
<circle cx="607.6" cy="171.4" r="0.7" fill="#fff"/>
<circle cx="607.6" cy="174" r="0.7" fill="#fff"/>
<line x1="611.4" y1="174" x2="628.6" y2="184.8" stroke="#444" stroke-width="3.8" stroke-linecap="butt"/>
<line x1="611.4" y1="174" x2="628.6" y2="184.8" stroke="#e8e8e8" stroke-width="2.80" stroke-linecap="butt" stroke-dasharray="0.65 0.65"/>
<g transform="translate(633.4 187.6) rotate(28)"><rect x="-3.6" y="-2" width="7.2" height="4" rx="1.6" fill="#fff" stroke="#111" stroke-width="1"/><rect x="-2" y="-0.8" width="4" height="1.6" rx="0.8" fill="#bbb" stroke="#333" stroke-width="0.5"/></g>
<path d="M637,189 Q640.6,189.4 642.6,192" fill="none" stroke="#555" stroke-width="0.9" />
<path d="M641,193.6 q3,-3 5.6,-0.6 M641.6,195.2 l2.4,-1.4 M642.4,196.2 q-0.4,2.4 2,3.4 M644.4,194.2 q2.4,1 1.6,4" fill="none" stroke="#111" stroke-width="1.3" />
<path d="M588.8,123 L590,121.4 L598.4,116.6 L600.4,116.6 L623.7,126.8 L630,131.4 L636.9,138.2 L637.2,158.7 L622.4,167.4 L620.4,167.4 L592.6,149.4 L591.4,147.4 Z" fill="#fff" stroke="#111" stroke-width="1.7" />
<path d="M623.7,126.8 L626.2,140 L625.8,163 L622.4,167.4 M626.2,140 L636.9,138.2" fill="none" stroke="#111" stroke-width="1.0" />
<path d="M591.4,124.8 L599.4,119.8 L621.4,129.6 L623.6,140.6 L623.2,161.6 L620.6,164.4 L593.6,147 Z" fill="#fff" stroke="#111" stroke-width="0.9" />
<path d="M591.4,124.8 L595.4,128 L620,139.4 L623.6,140.6 M595.4,128 L596.8,143.6 L593.6,147 M596.8,143.6 L620.4,159.4 L623.2,161.6 M620,139.4 L620.4,159.4" fill="none" stroke="#111" stroke-width="0.8" />
<path d="M597.6,125.6 L620.6,136 M599.4,123.6 L621,133.4" fill="none" stroke="#111" stroke-width="0.6" />
<path d="M604,136.4 L608,133.8 L620,139.4 L620.2,150.6 L604,141.6 Z" fill="#444" stroke="#111" stroke-width="0.7" />
<polyline points="604.6,137.2 619.6,144.6" fill="none" stroke="#ddd" stroke-width="0.5" />
<polyline points="604.6,138.35 619.6,145.75" fill="none" stroke="#ddd" stroke-width="0.5" />
<polyline points="604.6,139.5 619.6,146.9" fill="none" stroke="#ddd" stroke-width="0.5" />
<polyline points="604.6,140.64999999999998 619.6,148.04999999999998" fill="none" stroke="#ddd" stroke-width="0.5" />
<polyline points="604.6,141.79999999999998 619.6,149.2" fill="none" stroke="#ddd" stroke-width="0.5" />
<polyline points="608,133.8 608,138" fill="none" stroke="#111" stroke-width="0.75" />
<path d="M597.6,133 L601.6,131 Q604.4,131.4 604.4,134.6 L604,137 L600,139.4 Q597,139 597,136 Z" fill="#fff" stroke="#111" stroke-width="0.8" />
<ellipse cx="599.2" cy="136.2" rx="1.9" ry="2.6" transform="rotate(-20 599.2 136.2)" fill="#eee" stroke="#111" stroke-width="0.7"/>
<circle cx="613.4" cy="152.2" r="1.7" fill="#999" stroke="#111" stroke-width="0.8"/>
<path d="M596.2,148.6 l3.6,-2.4 M618.6,163.6 l2.4,-3 M593.4,126.4 l2.4,1.8 M611,155 l1.6,-1.6" fill="none" stroke="#111" stroke-width="0.8" />
<path d="M498.5,171.2 L505.5,167.7 L521,160 L523,158.8 L542,150.7 L546,150.4 L550.3,151.4 L558,155.4 L565.2,159.5 L574.7,165 L577,168 L578.4,171.7 L578.8,196 L577.4,199 L573.5,201.7 L555.7,209.9 L555.7,215 L531.5,228.6 L528.5,228.6 L526,226 L496,204.6 L493.4,200 L493,197 L496,175 Z" fill="#fff" stroke="#111" stroke-width="1.6" />
<path d="M524,161.4 L543,153 L549.6,153.6" fill="none" stroke="#111" stroke-width="0.6" />
<path d="M498.6,171.4 L501,170.6 L531,186.4 L533.6,189.8 L531.6,226 L530,228.4" fill="none" stroke="#111" stroke-width="1.0" />
<path d="M499.6,174.4 L529.4,190.2 L528.2,222.6 L496.6,202 Z" fill="#fff" stroke="#111" stroke-width="0.9" />
<path d="M521,160 L523,163 M540.8,177 L549,179.2 L551,189.6 L555.6,188 M549,179.2 L574.7,165.2 M533.6,189.8 L550.3,182.6" fill="none" stroke="#111" stroke-width="0.9" />
<path d="M527.2,170.4 Q527.4,166 531.3,165.4 L537.4,164.6 Q540,165.6 540.4,170.4 L540.8,177 L535,180.4 L533,176 L529.4,173.6 Z" fill="#fff" stroke="#111" stroke-width="1.0" />
<ellipse cx="530.9" cy="171.4" rx="1.4" ry="2.1" transform="rotate(-10 530.9 171.4)" fill="#ddd" stroke="#111" stroke-width="0.8"/>
<path d="M536.4,166 L537.6,174 L536.4,178" fill="none" stroke="#111" stroke-width="0.6" />
<path d="M502.6,177.4 L527,190 M502.6,177.4 L501.4,196.4 M527,190 L526.2,216 M503.4,208 L526.2,223" fill="none" stroke="#111" stroke-width="0.7" />
<path d="M494.8,198.8 L531,184.4" fill="none" stroke="#222" stroke-width="2.6" />
<path d="M495.4,198.6 L530.6,184.6" fill="none" stroke="#ccc" stroke-width="1.2" />
<path d="M497.4,205.4 L532,191.4" fill="none" stroke="#222" stroke-width="2.6" />
<path d="M498,205.2 L531.6,191.6" fill="none" stroke="#ccc" stroke-width="1.2" />
<path d="M513,186.6 l1.4,2.8 M520.6,196 l1.6,2.8 M506,179.6 l0.6,2.6 M507,194.6 l1,2.6" fill="none" stroke="#111" stroke-width="0.9" />
<path d="M505,207 L514,203.4 L526.2,211" fill="none" stroke="#111" stroke-width="0.7" />
<circle cx="500.8" cy="173.6" r="1.2" fill="#ccc" stroke="#111" stroke-width="0.6"/>
<circle cx="496.8" cy="202.6" r="1.6" fill="#ccc" stroke="#111" stroke-width="0.7"/>
<circle cx="530" cy="225.6" r="1.7" fill="#ccc" stroke="#111" stroke-width="0.7"/>
<circle cx="530.8" cy="190" r="1.2" fill="#ccc" stroke="#111" stroke-width="0.6"/>
<path d="M557,210.6 L561.4,208.4 M557.6,213.6 L561,211.8" fill="none" stroke="#111" stroke-width="0.7" />
<line x1="569.0" y1="209.5" x2="561.5" y2="213.6" stroke="#1a1a1a" stroke-width="2.7" stroke-linecap="butt"/>
<line x1="567.6" y1="210.2" x2="561.5" y2="213.6" stroke="#bbb" stroke-width="1.22" stroke-linecap="butt" stroke-dasharray="0.7 0.7"/>
<circle cx="571" cy="208.4" r="2.9" fill="#444" stroke="#111" stroke-width="1.1"/>
<circle cx="571.3" cy="208.20000000000002" r="1.22" fill="#ddd"/>
<path d="M545,246.8 L570.2,233.4 L570.2,249.6 L545,261.8 Z" fill="#fff" stroke="#111" stroke-width="1.3" />
<ellipse cx="475.6" cy="221" rx="5.6" ry="7.2" transform="rotate(-28 475.6 221)" fill="#fff" stroke="#111" stroke-width="1.6"/>
<ellipse cx="475.8" cy="221" rx="3.8" ry="5.2" transform="rotate(-28 475.8 221)" fill="#999" stroke="#111" stroke-width="1.6"/>
<ellipse cx="476.2" cy="221" rx="2" ry="3" transform="rotate(-28 476.2 221)" fill="#fff" stroke="#111" stroke-width="0.8"/>
<ellipse cx="489" cy="214" rx="6.3" ry="7.8" transform="rotate(-28 489 214)" fill="#fff" stroke="#111" stroke-width="1.7"/>
<ellipse cx="488.4" cy="214.4" rx="5" ry="6.6" transform="rotate(-28 488.4 214.4)" fill="#fff" stroke="#111" stroke-width="0.7"/>
<ellipse cx="489.4" cy="214.2" rx="3.4" ry="4.8" transform="rotate(-28 489.4 214.2)" fill="#fff" stroke="#111" stroke-width="1.5"/>
<g transform="translate(484.4 235) rotate(-22)"><rect x="-4.3" y="-4.3" width="8.6" height="8.6" fill="#000"/><rect x="-3.8" y="-5.9" width="7.6" height="1.6" fill="none" stroke="#000" stroke-width="0.7"/><circle cx="0" cy="0.5" r="2.0" fill="#fff"/><circle cx="0" cy="0.5" r="0.8" fill="#000"/></g>
<path d="M410.4,230 L414,226 L427,219.6 L432,219 L445,222 L450,226 L454.4,233 L456.6,242 L457.4,252 L457,261 L454,266 L446,271 L430,273.6 L421,272 L417,268 L411.4,256 L409.6,244 Z" fill="#fff" stroke="#111" stroke-width="1.6" />
<path d="M421.5,224.4 C430.5,230.4 442.0,249.6 436.5,271.6" fill="none" stroke="#222" stroke-width="0.75" />
<path d="M423.5,224.1 C432.5,230.1 443.8,249.0 438.2,271.0" fill="none" stroke="#222" stroke-width="0.75" />
<path d="M425.5,223.8 C434.5,229.8 445.5,248.4 440.0,270.4" fill="none" stroke="#222" stroke-width="0.75" />
<path d="M427.5,223.4 C436.5,229.4 447.2,247.7 441.8,269.7" fill="none" stroke="#222" stroke-width="0.75" />
<path d="M429.5,223.1 C438.5,229.1 449.0,247.1 443.5,269.1" fill="none" stroke="#222" stroke-width="0.75" />
<path d="M431.5,222.8 C440.5,228.8 450.8,246.5 445.2,268.5" fill="none" stroke="#222" stroke-width="0.75" />
<path d="M433.5,223.6 C442.5,229.6 452.5,245.9 447.0,267.9" fill="none" stroke="#222" stroke-width="0.75" />
<path d="M435.5,224.3 C444.5,230.3 454.2,245.3 448.8,267.3" fill="none" stroke="#222" stroke-width="0.75" />
<path d="M437.5,225.1 C446.5,231.1 456.0,244.6 450.5,266.6" fill="none" stroke="#222" stroke-width="0.75" />
<path d="M439.5,225.8 C448.5,231.8 457.8,244.0 452.2,266.0" fill="none" stroke="#222" stroke-width="0.75" />
<path d="M441.5,226.6 C450.5,232.6 459.5,243.4 454.0,265.4" fill="none" stroke="#222" stroke-width="0.75" />
<path d="M443.5,227.3 C452.5,233.3 461.2,242.8 455.8,264.8" fill="none" stroke="#222" stroke-width="0.75" />
<path d="M431.6,220.6 L437.4,220.8 L448,229.4 L442,230 Z" fill="#fff" stroke="#111" stroke-width="0.7" />
<path d="M445.6,262.4 L456.6,255.6 L456.4,261.4 L446.4,268 Z" fill="#666" stroke="#111" stroke-width="0.6" />
<path d="M411.6,231 L416,229 L431,232.6 L437.6,238.6 L442,250 L443.6,262 L442,268.6 L436,272.6 L422,272.4 L417.4,268 L412,256 L410.6,244 Z" fill="#fff" stroke="#111" stroke-width="1.2" />
<path d="M416,238 Q418,232 424,233.4 Q433,236 437,249 Q440,262 434,267 Q428,270.4 422,264 Q414.6,253 416,238 Z" fill="#fff" stroke="#111" stroke-width="1.0" />
<path d="M417.6,249.0 Q419.1,258.0 421.2,264.0" fill="none" stroke="#222" stroke-width="0.7" />
<path d="M419.6,250.0 Q421.1,258.5 423.2,264.4" fill="none" stroke="#222" stroke-width="0.7" />
<path d="M421.6,251.0 Q423.1,259.0 425.2,264.8" fill="none" stroke="#222" stroke-width="0.7" />
<path d="M423.6,252.0 Q425.1,259.5 427.2,265.2" fill="none" stroke="#222" stroke-width="0.7" />
<path d="M425.6,253.0 Q427.1,260.0 429.2,265.6" fill="none" stroke="#222" stroke-width="0.7" />
<path d="M427.6,254.0 Q429.1,260.5 431.2,266.0" fill="none" stroke="#222" stroke-width="0.7" />
<path d="M429.6,255.0 Q431.1,261.0 433.2,266.4" fill="none" stroke="#222" stroke-width="0.7" />
<path d="M431.6,256.0 Q433.1,261.5 435.2,266.8" fill="none" stroke="#222" stroke-width="0.7" />
<path d="M433.6,257.0 Q435.1,262.0 437.2,267.2" fill="none" stroke="#222" stroke-width="0.7" />
<path d="M417,236 Q422,231.6 430,236.4 Q437,241.4 437.6,250 L433.6,253 Q432.6,243 426.4,239.6 Q421,237 417.6,240.4 Z" fill="#999" stroke="#111" stroke-width="0.9" />
<path d="M419,234.8 q6,-1.6 12,4 M420,237.4 q5,-1 9.6,3.4 M431,238 l2,8" fill="none" stroke="#222" stroke-width="0.6" />
<path d="M433.6,253 Q437,254.6 441,253 L441.6,259 Q437,261.4 433.4,259 Z" fill="#fff" stroke="#111" stroke-width="0.9" />
<path d="M410,231.6 l1.6,3.6 M409.4,240.4 l2.4,0.6 l0.4,3 M409.2,252.6 l2.8,-0.6 M413.6,263 l2.8,-1.6 M413,229.4 l1.6,3.4 l3,-1" fill="none" stroke="#111" stroke-width="1.2" />
<path d="M410.6,232 L411.6,256.6 M412.6,234 L413.4,256" fill="none" stroke="#111" stroke-width="0.7" />
<path d="M414,240 L414.6,248 L416.6,254" fill="none" stroke="#444" stroke-width="1.6" />
<path d="M421,272 L436,267 L444,267.4 L446,271" fill="none" stroke="#111" stroke-width="0.9" />
<path d="M419.4,270 l1.4,2.6 M440,273 l1,-3 M424,270.6 l10,-3" fill="none" stroke="#111" stroke-width="0.9" />
<path d="M455.4,240.4 l3,-1.2 M457,257.4 l2.6,-1 M440.6,222.4 l1,-2" fill="none" stroke="#111" stroke-width="0.9" />
<path d="M404.4,259.4 L408.4,258.4 Q409.8,259.4 409.6,261.6 L405.6,263.4 Z" fill="#fff" stroke="#111" stroke-width="1.2" />
<path d="M390,258.4 L394,257.2 L399,257 L403.6,259.2 Q406.4,265 404.6,272 Q403.6,275.6 401.6,278 L395,283.6 L389,270 Z" fill="#fff" stroke="#111" stroke-width="1.5" />
<path d="M393.6,257.4 Q399.6,264 398.6,275 Q398,279 396.6,282" fill="none" stroke="#111" stroke-width="1.0" />
<path d="M397,257 Q403,264 401.4,275 L400,279" fill="none" stroke="#111" stroke-width="0.8" />
<polyline points="398.2,259.4 402.6,259.6" fill="none" stroke="#222" stroke-width="0.8" />
<polyline points="398.5,262.2 402.85,261.95000000000005" fill="none" stroke="#222" stroke-width="0.8" />
<polyline points="398.8,265.0 403.1,264.3" fill="none" stroke="#222" stroke-width="0.8" />
<polyline points="399.09999999999997,267.79999999999995 403.35,266.65000000000003" fill="none" stroke="#222" stroke-width="0.8" />
<polyline points="399.4,270.59999999999997 403.6,269.0" fill="none" stroke="#222" stroke-width="0.8" />
<polyline points="399.7,273.4 403.85,271.35" fill="none" stroke="#222" stroke-width="0.8" />
<polyline points="400.0,276.2 404.1,273.70000000000005" fill="none" stroke="#222" stroke-width="0.8" />
<path d="M383.3,259.7 L390,258.4 Q397,266 395.4,278 Q394.6,282 393,284.6 L390,286.8 Z" fill="#fff" stroke="#111" stroke-width="1.2" />
<path d="M386,259.4 Q393,266.4 392.4,279 M388.4,259 Q395,266 394,279.6" fill="none" stroke="#111" stroke-width="0.9" />
<path d="M391,262 Q395.6,270 393.4,283" fill="none" stroke="#444" stroke-width="2.0" />
<path d="M368.8,263.6 L383.3,259.7 Q390.5,266 392,279 Q391.6,284 390,286.8 L378.5,293.6 L373,291 L369.6,283 L368,272 Z" fill="#fff" stroke="#111" stroke-width="1.6" />
<path d="M368.8,263.6 Q377.6,270 378.5,293.6" fill="none" stroke="#111" stroke-width="1.1" />
<path d="M372.8,262.6 Q381.4,269.4 382.4,291.4" fill="none" stroke="#111" stroke-width="1.0" />
<polyline points="375.6,265.6 379.20000000000005,264.6" fill="none" stroke="#222" stroke-width="0.9" />
<polyline points="380.40000000000003,264.20000000000005 387.80000000000007,262.0" fill="none" stroke="#222" stroke-width="0.9" />
<polyline points="376.70000000000005,269.3 380.30000000000007,268.3" fill="none" stroke="#222" stroke-width="0.9" />
<polyline points="381.50000000000006,267.90000000000003 388.7000000000001,265.55" fill="none" stroke="#222" stroke-width="0.9" />
<polyline points="377.8,273.0 381.40000000000003,272.0" fill="none" stroke="#222" stroke-width="0.9" />
<polyline points="382.6,271.6 389.6000000000001,269.09999999999997" fill="none" stroke="#222" stroke-width="0.9" />
<polyline points="378.6,276.70000000000005 382.20000000000005,275.70000000000005" fill="none" stroke="#222" stroke-width="0.9" />
<polyline points="383.40000000000003,275.30000000000007 390.20000000000005,272.65000000000003" fill="none" stroke="#222" stroke-width="0.9" />
<polyline points="378.8,280.40000000000003 382.40000000000003,279.40000000000003" fill="none" stroke="#222" stroke-width="0.9" />
<polyline points="383.6,279.00000000000006 390.20000000000005,276.2" fill="none" stroke="#222" stroke-width="0.9" />
<polyline points="379.0,284.1 382.6,283.1" fill="none" stroke="#222" stroke-width="0.9" />
<polyline points="383.8,282.70000000000005 390.20000000000005,279.75" fill="none" stroke="#222" stroke-width="0.9" />
<polyline points="379.20000000000005,287.8 382.80000000000007,286.8" fill="none" stroke="#222" stroke-width="0.9" />
<polyline points="384.00000000000006,286.40000000000003 390.2000000000001,283.3" fill="none" stroke="#222" stroke-width="0.9" />
<path d="M352.3,293.5 L337.4,302.2 L338.2,291.2 L352.0,290.4 Z" fill="#fff" stroke="#111" stroke-width="1.2" />
<path d="M352.0,290.2 L335.2,291.1 L338.8,281.4 L352.4,287.2 Z" fill="#fff" stroke="#111" stroke-width="1.2" />
<path d="M352.5,287.0 L336.0,279.7 L341.8,272.5 L353.5,284.4 Z" fill="#fff" stroke="#111" stroke-width="1.2" />
<path d="M353.6,284.3 L339.6,269.4 L347.0,265.8 L355.1,282.5 Z" fill="#fff" stroke="#111" stroke-width="1.2" />
<path d="M355.2,282.5 L345.7,261.7 L353.5,262.0 L357.0,281.7 Z" fill="#fff" stroke="#111" stroke-width="1.2" />
<path d="M357.1,281.7 L353.3,257.5 L360.7,261.7 L359.0,282.1 Z" fill="#fff" stroke="#111" stroke-width="1.2" />
<path d="M359.1,282.1 L361.5,257.4 L367.4,265.0 L360.7,283.6 Z" fill="#fff" stroke="#111" stroke-width="1.2" />
<path d="M360.8,283.7 L369.2,261.4 L372.8,271.4 L362.0,286.1 Z" fill="#fff" stroke="#111" stroke-width="1.2" />
<path d="M362.1,286.2 L375.3,269.0 L376.1,280.1 L362.7,289.1 Z" fill="#fff" stroke="#111" stroke-width="1.2" />
<path d="M362.7,289.3 L379.1,279.2 L377.1,289.8 L362.7,292.4 Z" fill="#fff" stroke="#111" stroke-width="1.2" />
<ellipse cx="373.5" cy="291.5" rx="10.9" ry="1.7" transform="rotate(-0.3 373.5 291.5)" fill="#fff" stroke="#111" stroke-width="1.0"/>
<ellipse cx="372.5" cy="296.4" rx="10.6" ry="1.7" transform="rotate(14.2 372.5 296.4)" fill="#fff" stroke="#111" stroke-width="1.0"/>
<ellipse cx="370.5" cy="300.7" rx="10.2" ry="1.7" transform="rotate(29.2 370.5 300.7)" fill="#fff" stroke="#111" stroke-width="1.0"/>
<ellipse cx="367.6" cy="304.4" rx="9.9" ry="1.7" transform="rotate(45.0 367.6 304.4)" fill="#fff" stroke="#111" stroke-width="1.0"/>
<ellipse cx="364.0" cy="307.0" rx="9.5" ry="1.7" transform="rotate(61.6 364.0 307.0)" fill="#fff" stroke="#111" stroke-width="1.0"/>
<ellipse cx="360.0" cy="308.4" rx="9.3" ry="1.7" transform="rotate(78.9 360.0 308.4)" fill="#fff" stroke="#111" stroke-width="1.0"/>
<ellipse cx="355.5" cy="308.5" rx="9.3" ry="1.7" transform="rotate(97.6 355.5 308.5)" fill="#fff" stroke="#111" stroke-width="1.0"/>
<ellipse cx="351.2" cy="307.1" rx="9.4" ry="1.7" transform="rotate(116.2 351.2 307.1)" fill="#fff" stroke="#111" stroke-width="1.0"/>
<ellipse cx="347.2" cy="304.1" rx="9.7" ry="1.7" transform="rotate(135.2 347.2 304.1)" fill="#fff" stroke="#111" stroke-width="1.0"/>
<ellipse cx="357.4" cy="290.4" rx="6.2" ry="9.6" transform="rotate(-22 357.4 290.4)" fill="#fff" stroke="#111" stroke-width="1.4"/>
<ellipse cx="357.6" cy="290.4" rx="4.4" ry="7.2" transform="rotate(-22 357.6 290.4)" fill="#ddd" stroke="#111" stroke-width="0.9"/>
<ellipse cx="357.8" cy="290.2" rx="2.8" ry="4.8" transform="rotate(-22 357.8 290.2)" fill="#fff" stroke="#111" stroke-width="0.9"/>
<path d="M356.6,287.6 L344,294.6 L343,298.6 L345.4,300 L358,293.4 Z" fill="#fff" stroke="#111" stroke-width="1.3" />
<path d="M345,296.4 L357,290 M344,294.6 L345.4,300" fill="none" stroke="#111" stroke-width="0.8" />
<path d="M346,298 L356.4,292.4" fill="none" stroke="#222" stroke-width="1.6" />
<polyline points="408,298 427.6,287.2" fill="none" stroke="#111" stroke-width="2.8" />
<polyline points="409.6,297.2 427,287.6" fill="none" stroke="#eee" stroke-width="0.9" />
<ellipse cx="406" cy="299.2" rx="2.6" ry="3.4" transform="rotate(-30 406 299.2)" fill="#444" stroke="#111" stroke-width="1.2"/>
<ellipse cx="405.8" cy="299" rx="1" ry="1.4" transform="rotate(-30 405.8 299)" fill="#ddd" stroke="#111" stroke-width="0.5"/>
<polyline points="419,273 433,284 422.6,290.6" fill="none" stroke="#111" stroke-width="0.75" />
<ellipse cx="333" cy="303" rx="5.2" ry="6.2" transform="rotate(-25 333 303)" fill="#fff" stroke="#111" stroke-width="1.6"/>
<ellipse cx="333.2" cy="303" rx="3.4" ry="4.4" transform="rotate(-25 333.2 303)" fill="#888" stroke="#111" stroke-width="1.4"/>
<ellipse cx="333.6" cy="303" rx="1.6" ry="2.4" transform="rotate(-25 333.6 303)" fill="#fff" stroke="#111" stroke-width="0.8"/>
<polyline points="326.4,306.6 331.6,303.8" fill="none" stroke="#111" stroke-width="0.85" />
<g transform="translate(342.6 317.4) rotate(-20)"><rect x="-4.3" y="-4.3" width="8.6" height="8.6" fill="#000"/><rect x="-3.8" y="-5.9" width="7.6" height="1.6" fill="none" stroke="#000" stroke-width="0.7"/><circle cx="0" cy="0.5" r="2.0" fill="#fff"/><circle cx="0" cy="0.5" r="0.8" fill="#000"/></g>
<path d="M243.8,280.8 L248,277 L253.7,273.9 L260,271.4 L267.6,269.5 L274,268.7 L281.4,268.9 L288,270.6 L295.2,273.9 L302,278.4 L309.1,283.8 L315,290 L321,297.6 L325,305 L328.9,313.4 L332,321 L334.8,329.2 L337.6,337 L340.7,345.1 L343,349.6 L345.9,353 L345.4,355.4 L343.7,357.1 L339,358.8 L334.8,359.9 L332,359.9 L329.9,358.9 L329,356 L328.9,354 L326.6,352.8 L324.9,353 L320,355.4 L315,356.9 L313,356.4 L311.1,355 L305,351 L299.2,347 L293,344 L287.3,341.1 L281,338 L275.5,335.2 L269,332.4 L262.6,329.2 L260.6,327.6 L259.6,325.3 L258.6,318 L257.7,311.4 L256.8,310 L255.7,309.5 L254.6,312 L253.7,315.4 L251.8,316 L249.8,315.4 L242,311.4 L235.9,307.5 L235,305 L234.9,302.5 L236,297 L237.9,291.7 L240.4,286 Z" fill="#fff" stroke="#111" stroke-width="1.7" />
<path d="M242.6,286.4 L248.8,289.5 L245.4,308 L238.2,304.2 Z" fill="#fff" stroke="#111" stroke-width="0.9" />
<path d="M238.2,304.2 L240.4,295 L242.6,286.4 L245,287.6 L242,299 L240.6,305.4 Z" fill="#333" stroke="#111" stroke-width="0.5" />
<path d="M240.6,305.4 L245.4,308 L246,304 L242,302 Z" fill="#777" stroke="#111" stroke-width="0.4" />
<path d="M243.8,280.8 L249.6,284.8 L248.8,289.5 M249.6,284.8 L257,288 L263,293.6 L258.2,309.6" fill="none" stroke="#111" stroke-width="0.8" />
<path d="M246.4,288.6 l1.4,2.4 l-1.6,3 M247.6,290.6 l-2.4,0.4" fill="none" stroke="#111" stroke-width="0.7" />
<path d="M263.6,274.9 Q281,277.4 293.3,287.7 Q305,298 313,311.4 Q319.6,324 322.9,333.2 Q325.6,342 326.9,351" fill="none" stroke="#111" stroke-width="0.9" />
<path d="M249,278 Q258,279 266,284.6" fill="none" stroke="#111" stroke-width="0.7" />
<path d="M257.7,310.5 Q259.4,305 262.6,301.6 Q266,298.6 270.5,298.6 Q280,299.6 287.3,304.5 Q295.6,310.6 301.2,319.4 Q306.4,328 309.1,337.2 Q311.6,345 313,351 L315,356.9" fill="none" stroke="#111" stroke-width="0.9" />
<path d="M270.5,313.4 Q274.6,311.6 279.4,312.4 Q287.4,314.4 293.3,319.4 Q299.6,326 302.2,335.2 Q304,342.4 304.1,349" fill="none" stroke="#111" stroke-width="0.8" />
<path d="M262.6,301.6 Q261,312 264.4,321.6 L262.6,329.2" fill="none" stroke="#111" stroke-width="0.7" />
<ellipse cx="285.6" cy="330.2" rx="7.6" ry="11" transform="rotate(-24 285.6 330.2)" fill="#fff" stroke="#111" stroke-width="1.0"/>
<ellipse cx="286" cy="330.4" rx="5.4" ry="8.2" transform="rotate(-24 286 330.4)" fill="#ddd" stroke="#111" stroke-width="0.8"/>
<ellipse cx="286.6" cy="330" rx="3" ry="4.6" transform="rotate(-24 286.6 330)" fill="#fff" stroke="#111" stroke-width="0.8"/>
<path d="M288.6,325.6 l4.6,1.4 l1.4,8 l-2.6,4.6 M291,328 l1,8 M282,337 l9.4,4.4 M279.4,322 l3.6,-2" fill="none" stroke="#111" stroke-width="0.7" />
<circle cx="276.6" cy="335.4" r="0.9" fill="#fff" stroke="#111" stroke-width="0.6"/>
<circle cx="294.6" cy="343.6" r="0.9" fill="#fff" stroke="#111" stroke-width="0.6"/>
<circle cx="293.4" cy="324" r="0.9" fill="#fff" stroke="#111" stroke-width="0.6"/>
<path d="M329.6,354.4 L331.6,359.4" fill="none" stroke="#111" stroke-width="2.0" />
<path d="M334.8,359.9 L336,352.6 L343,349.6 M336,352.6 L330,351" fill="none" stroke="#111" stroke-width="0.7" />
<polyline points="263,344 285,331" fill="none" stroke="#111" stroke-width="0.75" />
<path d="M261.6,344.6 q-2.4,-0.8 -2.4,1.6 q0.4,2.4 2.6,1.4" fill="none" stroke="#111" stroke-width="1.2" />
<line x1="253.0" y1="333.6" x2="259" y2="330.8" stroke="#1a1a1a" stroke-width="2.8" stroke-linecap="butt"/>
<line x1="254.4" y1="333.0" x2="259" y2="330.8" stroke="#bbb" stroke-width="1.26" stroke-linecap="butt" stroke-dasharray="0.7 0.7"/>
<circle cx="251" cy="334.6" r="2.8" fill="#444" stroke="#111" stroke-width="1.1"/>
<circle cx="251.3" cy="334.40000000000003" r="1.18" fill="#ddd"/>
<line x1="284.0" y1="349.1" x2="290.4" y2="346.2" stroke="#1a1a1a" stroke-width="2.8" stroke-linecap="butt"/>
<line x1="285.4" y1="348.5" x2="290.4" y2="346.2" stroke="#bbb" stroke-width="1.26" stroke-linecap="butt" stroke-dasharray="0.7 0.7"/>
<circle cx="282" cy="350" r="2.8" fill="#444" stroke="#111" stroke-width="1.1"/>
<circle cx="282.3" cy="349.8" r="1.18" fill="#ddd"/>
<ellipse cx="249.4" cy="351" rx="5.6" ry="6.6" transform="rotate(-25 249.4 351)" fill="#fff" stroke="#111" stroke-width="1.6"/>
<ellipse cx="249.6" cy="351" rx="3.8" ry="4.8" transform="rotate(-25 249.6 351)" fill="#888" stroke="#111" stroke-width="1.4"/>
<ellipse cx="250" cy="351" rx="1.9" ry="2.8" transform="rotate(-25 250 351)" fill="#fff" stroke="#111" stroke-width="0.8"/>
<g transform="translate(257 366.4) rotate(-16)"><rect x="-4.3" y="-4.3" width="8.6" height="8.6" fill="#000"/><rect x="-3.8" y="-5.9" width="7.6" height="1.6" fill="none" stroke="#000" stroke-width="0.7"/><circle cx="0" cy="0.5" r="2.0" fill="#fff"/><circle cx="0" cy="0.5" r="0.8" fill="#000"/></g>
<polyline points="306,357 306,368 303.6,369.4" fill="none" stroke="#111" stroke-width="0.75" />
<path d="M203.4,238 L208.6,233.6 Q210.4,232.8 211.6,234.2 L222,246.6 Q223,248.6 221,250.4 L218.6,253.2 Q216.4,254.4 214.6,252.6 L203.2,241 Q202.2,239.4 203.4,238 Z" fill="#fff" stroke="#111" stroke-width="1.5" />
<ellipse cx="219.6" cy="249.6" rx="2.4" ry="3.2" transform="rotate(45 219.6 249.6)" fill="#fff" stroke="#111" stroke-width="1.0"/>
<path d="M207.6,245 l3.6,-1.8" fill="none" stroke="#111" stroke-width="0.8" />
<circle cx="210.6" cy="243.8" r="0.7" fill="#111"/>
<polyline points="193.4,254.6 202.6,248.4" fill="none" stroke="#111" stroke-width="3.0" />
<polyline points="193.6,254.5 202.4,248.5" fill="none" stroke="#fff" stroke-width="1.3" />
<polyline points="217.4,251.4 221.6,255" fill="none" stroke="#111" stroke-width="0.8" />
<g transform="translate(230 262.4) rotate(41.5)">
<rect x="-11.6" y="-3.3" width="23.2" height="6.6" rx="2.4" fill="#fff" stroke="#111" stroke-width="0.9"/>
<line x1="-10.20" y1="-3.3" x2="-9.00" y2="3.3" stroke="#222" stroke-width="0.8"/>
<line x1="-7.70" y1="-3.3" x2="-6.50" y2="3.3" stroke="#222" stroke-width="0.8"/>
<line x1="-5.20" y1="-3.3" x2="-4.00" y2="3.3" stroke="#222" stroke-width="0.8"/>
<line x1="-2.70" y1="-3.3" x2="-1.50" y2="3.3" stroke="#222" stroke-width="0.8"/>
<line x1="-0.20" y1="-3.3" x2="1.00" y2="3.3" stroke="#222" stroke-width="0.8"/>
<line x1="2.30" y1="-3.3" x2="3.50" y2="3.3" stroke="#222" stroke-width="0.8"/>
<line x1="4.80" y1="-3.3" x2="6.00" y2="3.3" stroke="#222" stroke-width="0.8"/>
<line x1="7.30" y1="-3.3" x2="8.50" y2="3.3" stroke="#222" stroke-width="0.8"/>
<line x1="9.80" y1="-3.3" x2="11.00" y2="3.3" stroke="#222" stroke-width="0.8"/>
</g>
<polyline points="237.6,272 245,279.4" fill="none" stroke="#111" stroke-width="0.8" />
<path d="M216,366 L229,360.4 L232,371.6 L218.4,376.4 Z" fill="#fff" stroke="#111" stroke-width="1.3" />
<ellipse cx="216.8" cy="371" rx="2.6" ry="4.8" transform="rotate(-22 216.8 371)" fill="#fff" stroke="#111" stroke-width="1.3"/>
<ellipse cx="217" cy="371" rx="1.2" ry="2.6" transform="rotate(-22 217 371)" fill="#999" stroke="#111" stroke-width="0.8"/>
<path d="M219.6,365.2 L222.4,375 M223.6,363.4 L226.4,373.6" fill="none" stroke="#111" stroke-width="0.7" />
<ellipse cx="228.4" cy="364.6" rx="3.2" ry="7" transform="rotate(-20 228.4 364.6)" fill="#fff" stroke="#111" stroke-width="1.3"/>
<path d="M226,354 L228.2,351.1 L231,350 L234.3,350.3 L237.6,352 L240.5,354.8 L242.2,358.4 L243,362.2 L242.8,366 L241.7,369.6 L239.6,372 L236.8,373.3 L233.6,373.4 L230.6,372 L231.8,368 L232.4,362 L231.4,357.4 L229,354.4 Z" fill="#fff" stroke="#111" stroke-width="1.4" />
<path d="M229.4,352.6 Q235,356 235,364 Q234.6,370 232,372.6" fill="none" stroke="#111" stroke-width="0.9" />
<path d="M233,350.2 Q238.6,355 238.8,363.6 Q238.4,370 236,373.2" fill="none" stroke="#111" stroke-width="0.8" />
<polyline points="234.2,354.6 240.79999999999998,354.8" fill="none" stroke="#111" stroke-width="1.6" />
<polyline points="234.2,357.3 240.79999999999998,357.45" fill="none" stroke="#111" stroke-width="1.6" />
<polyline points="235.0,360.0 242.2,360.09999999999997" fill="none" stroke="#111" stroke-width="1.6" />
<polyline points="235.0,362.70000000000005 242.2,362.75000000000006" fill="none" stroke="#111" stroke-width="1.6" />
<polyline points="235.0,365.40000000000003 242.2,365.40000000000003" fill="none" stroke="#111" stroke-width="1.6" />
<polyline points="234.2,368.1 240.79999999999998,368.05" fill="none" stroke="#111" stroke-width="1.6" />
<polyline points="234.2,370.8 240.79999999999998,370.7" fill="none" stroke="#111" stroke-width="1.6" />
<ellipse cx="205" cy="377.4" rx="10.4" ry="14.6" transform="rotate(-24 205 377.4)" fill="#fff" stroke="#111" stroke-width="1.5"/>
<ellipse cx="203.4" cy="378.2" rx="9.6" ry="13.6" transform="rotate(-24 203.4 378.2)" fill="#fff" stroke="#111" stroke-width="0.8"/>
<ellipse cx="201.2" cy="379.4" rx="7" ry="10.2" transform="rotate(-24 201.2 379.4)" fill="#fff" stroke="#111" stroke-width="1.0"/>
<ellipse cx="200" cy="380" rx="5.8" ry="8.8" transform="rotate(-24 200 380)" fill="#ccc" stroke="#111" stroke-width="0.8"/>
<ellipse cx="198.6" cy="380.8" rx="5.2" ry="7.6" transform="rotate(-24 198.6 380.8)" fill="#fff" stroke="#111" stroke-width="1.0"/>
<path d="M193.2,378 L189.6,380 M199,390 L195,391.6" fill="none" stroke="#111" stroke-width="0.9" />
<ellipse cx="195.4" cy="382.6" rx="5.4" ry="7.4" transform="rotate(-24 195.4 382.6)" fill="#fff" stroke="#111" stroke-width="1.3"/>
<ellipse cx="195.4" cy="382.6" rx="3.8" ry="5.6" transform="rotate(-24 195.4 382.6)" fill="#ddd" stroke="#111" stroke-width="0.9"/>
<ellipse cx="195.6" cy="382.6" rx="2.2" ry="3.4" transform="rotate(-24 195.6 382.6)" fill="#fff" stroke="#111" stroke-width="0.9"/>
<polyline points="186,388 195,382.8" fill="none" stroke="#111" stroke-width="0.75" />
<path d="M151.6,353.2 q-2,-3.4 -4.6,-2 q-1.6,1.4 0.6,2.4" fill="none" stroke="#111" stroke-width="0.8" />
<g transform="translate(165.4 361.2) rotate(29.5)">
<rect x="-16" y="-2.3" width="32" height="4.6" rx="1.5" fill="#fff" stroke="#111" stroke-width="0.9"/>
<line x1="-15.00" y1="-2.3" x2="-14.40" y2="2.3" stroke="#333" stroke-width="0.6"/>
<line x1="-13.45" y1="-2.3" x2="-12.85" y2="2.3" stroke="#333" stroke-width="0.6"/>
<line x1="-11.90" y1="-2.3" x2="-11.30" y2="2.3" stroke="#333" stroke-width="0.6"/>
<line x1="-10.35" y1="-2.3" x2="-9.75" y2="2.3" stroke="#333" stroke-width="0.6"/>
<line x1="-8.80" y1="-2.3" x2="-8.20" y2="2.3" stroke="#333" stroke-width="0.6"/>
<line x1="-7.25" y1="-2.3" x2="-6.65" y2="2.3" stroke="#333" stroke-width="0.6"/>
<line x1="-5.70" y1="-2.3" x2="-5.10" y2="2.3" stroke="#333" stroke-width="0.6"/>
<line x1="-4.15" y1="-2.3" x2="-3.55" y2="2.3" stroke="#333" stroke-width="0.6"/>
<line x1="-2.60" y1="-2.3" x2="-2.00" y2="2.3" stroke="#333" stroke-width="0.6"/>
<line x1="-1.05" y1="-2.3" x2="-0.45" y2="2.3" stroke="#333" stroke-width="0.6"/>
<line x1="0.50" y1="-2.3" x2="1.10" y2="2.3" stroke="#333" stroke-width="0.6"/>
<line x1="2.05" y1="-2.3" x2="2.65" y2="2.3" stroke="#333" stroke-width="0.6"/>
<line x1="3.60" y1="-2.3" x2="4.20" y2="2.3" stroke="#333" stroke-width="0.6"/>
<line x1="5.15" y1="-2.3" x2="5.75" y2="2.3" stroke="#333" stroke-width="0.6"/>
<line x1="6.70" y1="-2.3" x2="7.30" y2="2.3" stroke="#333" stroke-width="0.6"/>
<line x1="8.25" y1="-2.3" x2="8.85" y2="2.3" stroke="#333" stroke-width="0.6"/>
<line x1="9.80" y1="-2.3" x2="10.40" y2="2.3" stroke="#333" stroke-width="0.6"/>
<line x1="11.35" y1="-2.3" x2="11.95" y2="2.3" stroke="#333" stroke-width="0.6"/>
<line x1="12.90" y1="-2.3" x2="13.50" y2="2.3" stroke="#333" stroke-width="0.6"/>
<line x1="14.45" y1="-2.3" x2="15.05" y2="2.3" stroke="#333" stroke-width="0.6"/>
</g>
<path d="M179.4,369 l4,3 l2.4,-0.4 M183,371.6 l0,-3" fill="none" stroke="#111" stroke-width="0.8" />
<polyline points="180,373.6 185.6,376.6" fill="none" stroke="#111" stroke-width="0.75" />
<path d="M98,374 L100.6,372 L109,374.6 L127,384.8 L128.6,387.6 L125.6,388.6 L107,380 L99,376.8 Z" fill="#fff" stroke="#111" stroke-width="1.6" />
<polyline points="99.4,374.6 101.4,372.8" fill="none" stroke="#111" stroke-width="0.9" />
<polyline points="101.10000000000001,375.25 103.10000000000001,373.45" fill="none" stroke="#111" stroke-width="0.9" />
<polyline points="102.80000000000001,375.90000000000003 104.80000000000001,374.1" fill="none" stroke="#111" stroke-width="0.9" />
<polyline points="104.5,376.55 106.5,374.75" fill="none" stroke="#111" stroke-width="0.9" />
<polyline points="106.2,377.20000000000005 108.2,375.40000000000003" fill="none" stroke="#111" stroke-width="0.9" />
<polyline points="107.9,377.85 109.9,376.05" fill="none" stroke="#111" stroke-width="0.9" />
<path d="M98.6,375.4 L109,379.8" fill="none" stroke="#222" stroke-width="2.2" />
<path d="M109,380.4 L125.6,388" fill="none" stroke="#333" stroke-width="1.4" />
<path d="M125.6,388.6 L126.4,390.4 L132,388.4 L133,385.6 L128.6,387.6 M132,388.4 L131.6,386.2" fill="#fff" stroke="#111" stroke-width="0.9" />
<polyline points="133,385.6 143,381" fill="none" stroke="#111" stroke-width="0.75" />
<line x1="115.6" y1="394.1" x2="121.4" y2="391" stroke="#1a1a1a" stroke-width="2.8" stroke-linecap="butt"/>
<line x1="116.9" y1="393.4" x2="121.4" y2="391" stroke="#bbb" stroke-width="1.26" stroke-linecap="butt" stroke-dasharray="0.7 0.7"/>
<circle cx="113.6" cy="395.2" r="2.8" fill="#444" stroke="#111" stroke-width="1.1"/>
<circle cx="113.89999999999999" cy="395.0" r="1.18" fill="#ddd"/>
<path d="M134.2,367.9 L143.4,362.4 L150,364.4 L158.1,367.9 L171,373.4 L180.2,377.1 L185.8,380.8 L188,384 L189.5,388.1 L190.6,393 L192.2,399.2 L195,404 L198.7,408.4 L202.6,414 L206,419.5 L208.4,424 L209.7,428.7 L209.4,433 L207.9,436 L205.4,438.6 L202.3,440.6 L199,441.6 L195,441.6 L187,440 L180.2,437.9 L172,434.4 L165.5,430.5 L158.6,425 L152.6,419.5 L147.6,413 L143.4,406.6 L140,399.4 L137,391.8 L135.2,385 L134.2,378.9 Z" fill="#fff" stroke="#111" stroke-width="1.6" />
<path d="M136,370 L136.4,380 Q138.8,392 145.3,402.9 Q150.4,411 156.3,417.6 Q162.6,423.6 169.2,427.7 Q176,431 183.9,432.3 L193.1,434.2 Q197,436 198.7,440.6" fill="none" stroke="#111" stroke-width="0.9" />
<path d="M190.6,399.6 Q194,405.6 197.6,410.4 Q203,418 205.6,424 Q207.6,429.6 206.4,434" fill="none" stroke="#111" stroke-width="0.8" />
<path d="M160.9,424.2 L182,435.2 L181.2,437 L160,426 Z" fill="#fff" stroke="#111" stroke-width="0.7" />
<ellipse cx="181.2" cy="390.9" rx="9" ry="9.8" transform="rotate(-20 181.2 390.9)" fill="#fff" stroke="#111" stroke-width="1.3"/>
<path d="M173.4,386 Q174,396 183,400.6" fill="none" stroke="#111" stroke-width="0.9" />
<path d="M177,381.6 l1.6,-2.4 l6,2.6 l-1,2.4" fill="#999" stroke="#111" stroke-width="0.8" />
<path d="M189.6,388.4 l2.6,1.4 l0.6,8" fill="none" stroke="#111" stroke-width="0.8" />
<path d="M141.4,374 L146.4,371.6 L149.4,373 L149.4,378.4 L145,380.4 L141.4,383.4 L139.4,388" fill="none" stroke="#111" stroke-width="0.9" />
<path d="M141.4,374 L144.4,375.6 L149.4,373 M144.4,375.6 L144.4,380.4" fill="none" stroke="#111" stroke-width="0.8" />
<path d="M136.4,369.2 L143.6,365 L150,367.4" fill="none" stroke="#111" stroke-width="0.7" />
<polyline points="140.6,414.6 184,390" fill="none" stroke="#111" stroke-width="0.75" />
<ellipse cx="134.6" cy="418.4" rx="6.2" ry="7.8" transform="rotate(-22 134.6 418.4)" fill="#fff" stroke="#111" stroke-width="1.3"/>
<ellipse cx="135" cy="418.4" rx="4.6" ry="6.2" transform="rotate(-22 135 418.4)" fill="#fff" stroke="#111" stroke-width="1.0"/>
<polyline points="128.6,421.4 133,419" fill="none" stroke="#111" stroke-width="0.75" />
<ellipse cx="121.4" cy="425.6" rx="5.6" ry="7" transform="rotate(-22 121.4 425.6)" fill="#fff" stroke="#111" stroke-width="2.0"/>
<ellipse cx="121.8" cy="425.6" rx="2" ry="2.8" transform="rotate(-22 121.8 425.6)" fill="#ccc" stroke="#111" stroke-width="0.9"/>
<polyline points="115,429 119,427" fill="none" stroke="#111" stroke-width="0.75" />
<ellipse cx="110.2" cy="432.4" rx="6" ry="7.4" transform="rotate(-22 110.2 432.4)" fill="#fff" stroke="#111" stroke-width="2.2"/>
<ellipse cx="110.4" cy="432.4" rx="3.6" ry="4.8" transform="rotate(-22 110.4 432.4)" fill="#999" stroke="#111" stroke-width="1.0"/>
<ellipse cx="110.8" cy="432.2" rx="1.6" ry="2.2" transform="rotate(-22 110.8 432.2)" fill="#fff" stroke="#111" stroke-width="0.8"/>
<polyline points="95,440.4 103.6,436.4" fill="none" stroke="#111" stroke-width="3.6" />
<polyline points="96,440 103,436.8" fill="none" stroke="#bbb" stroke-width="1.2" stroke-dasharray="0.7 0.7"/>
<ellipse cx="93.6" cy="441.2" rx="4.2" ry="5.2" transform="rotate(-22 93.6 441.2)" fill="#fff" stroke="#111" stroke-width="1.3"/>
<path d="M89.4,438.6 L91.6,436.6 L94.6,437.2 L95.6,440.6 L94.6,444.6 L92,446.2 L89.6,445 L88.6,441.6 Z" fill="#777" stroke="#111" stroke-width="1.4" />
<ellipse cx="91.8" cy="441.4" rx="1.6" ry="2.2" transform="rotate(-22 91.8 441.4)" fill="#ddd" stroke="#111" stroke-width="0.6"/>
<polyline points="270,388.6 283.4,381.8" fill="none" stroke="#111" stroke-width="3.2" />
<polyline points="272,387.6 283,382" fill="none" stroke="#eee" stroke-width="1.1" />
<ellipse cx="268.4" cy="389.8" rx="2.8" ry="3.6" transform="rotate(-25 268.4 389.8)" fill="#555" stroke="#111" stroke-width="1.2"/>
<ellipse cx="268.2" cy="389.6" rx="1.1" ry="1.5" transform="rotate(-25 268.2 389.6)" fill="#ddd" stroke="#111" stroke-width="0.5"/>
<g transform="translate(1.4 0)">
<path d="M283.4,374.4 L289,371.4 Q293.6,371 295.4,374.6 Q296.4,378 294.6,380.4 L289.6,383 Q285,383.4 283.4,380 Q282.4,377 283.4,374.4 Z" fill="#fff" stroke="#111" stroke-width="1.5" />
<ellipse cx="286.6" cy="378.6" rx="3.2" ry="4.4" transform="rotate(-22 286.6 378.6)" fill="#ddd" stroke="#111" stroke-width="1.0"/>
<path d="M286,374 L291.4,371.4" fill="none" stroke="#111" stroke-width="0.5" />
</g>
<ellipse cx="300.6" cy="371" rx="3" ry="3.8" transform="rotate(-22 300.6 371)" fill="#fff" stroke="#111" stroke-width="1.3"/>
<ellipse cx="300" cy="371.4" rx="1.8" ry="2.6" transform="rotate(-22 300 371.4)" fill="#ccc" stroke="#111" stroke-width="0.8"/>
<polyline points="315,368.4 326.6,362.2" fill="none" stroke="#111" stroke-width="4.8" />
<polyline points="316,368 326,362.8" fill="none" stroke="#777" stroke-width="1.6" stroke-dasharray="0.8 0.8"/>
<path d="M508.4,322 L536,306 L540.5,307.4 L554,298.6 L556.4,297.4 L622,338 L634,343.6 L640,344.8 L654.6,354.2 L654.2,356 L606.4,383.2 L603.6,382.8 L508,325.2 Q506.6,323.4 508.4,322 Z" fill="#fff" stroke="#111" stroke-width="1.7" />
<path d="M516.5,324.6 L536,313 M516.5,325.2 L600,376.4 L607,378.2 L650,355.4" fill="none" stroke="#111" stroke-width="0.9" />
<path d="M512.6,323.2 L602.6,379.6" fill="none" stroke="#555" stroke-width="0.6" />
<path d="M522,330.6 L560,353.6 M570,358.6 L598,375.4" fill="none" stroke="#444" stroke-width="1.6" />
<path d="M562,303.6 L621,339.6" fill="none" stroke="#111" stroke-width="0.8" />
<path d="M563.6,305.6 L618,338.6" fill="none" stroke="#999" stroke-width="1.6" />
<path d="M565,308.6 L616,340" fill="none" stroke="#111" stroke-width="0.7" />
<path d="M575,322.4 L601,338.6 M576.4,324 L599.6,338.4" fill="none" stroke="#444" stroke-width="0.7" />
<path d="M556,321.4 L560,318.4 L566,319.4 L604,343 M556,321.4 L560.6,324 L564.6,321.4 L600.4,343.6" fill="none" stroke="#111" stroke-width="0.8" />
<path d="M537,312.6 L556,321.4 M548.6,319.6 L560.6,326.6 L601,350.6" fill="none" stroke="#111" stroke-width="0.7" />
<path d="M520,325 L530.4,313.4 M523.4,326.4 L533.4,317.8" fill="none" stroke="#111" stroke-width="0.8" />
<circle cx="532.2" cy="314.8" r="2.8" fill="#bbb" stroke="#111" stroke-width="1.1"/>
<circle cx="532.2" cy="314.8" r="1.1" fill="#fff" stroke="#111" stroke-width="0.5"/>
<path d="M536,306 L538.6,309.4 L543.6,308" fill="none" stroke="#111" stroke-width="0.8" />
<path d="M551.6,309 l4,2.4 l-0.8,2 l-4,-2.4 Z" fill="#ddd" stroke="#111" stroke-width="0.7" />
<path d="M602.5,348 Q604,343.6 609.5,341.8 Q616,340 622,341.2 L622.7,356.6" fill="none" stroke="#111" stroke-width="0.9" />
<path d="M600.2,354.4 L611,347.4 Q616,346.6 618,350 Q619.6,353.4 618,355.6 L605.6,363 Q601.4,363.6 599.6,360 Q598.6,357 600.2,354.4 Z" fill="#fff" stroke="#111" stroke-width="1.3" />
<ellipse cx="602.6" cy="358.6" rx="3.2" ry="4.2" transform="rotate(-25 602.6 358.6)" fill="#ddd" stroke="#111" stroke-width="1.0"/>
<circle cx="602.4" cy="358.8" r="1.1" fill="#fff" stroke="#111" stroke-width="0.6"/>
<path d="M603.3,372.4 L611,360 L625,355 L625,361.2 L615.7,364.4 L606,373.6" fill="none" stroke="#111" stroke-width="0.9" />
<ellipse cx="612.6" cy="362.4" rx="1.4" ry="2.2" transform="rotate(-20 612.6 362.4)" fill="none" stroke="#111" stroke-width="0.8"/>
<path d="M616,357.6 l3,-1.4 M614.6,352.6 l2.4,-1" fill="none" stroke="#111" stroke-width="0.7" />
<path d="M622,338 Q624,334.6 628,335.4 Q632,337 634.6,343 L634.2,347 Q631,346 629.6,342 Q628,339.6 625.6,341 L626.6,349 L625,350.4" fill="#fff" stroke="#111" stroke-width="1.0" />
<path d="M634.3,344 L640,347 M636,350.6 l6,-1.4 l1,2.4 l-5,1.6 Z M639.6,346.4 l5,-1.2 l4,3" fill="none" stroke="#111" stroke-width="0.9" />
<circle cx="644" cy="352" r="0.9" fill="#111"/>
<circle cx="634.6" cy="353.4" r="0.7" fill="#111"/>
<path d="M609,377.4 L624,369 " fill="none" stroke="#222" stroke-width="2.4" />
<path d="M610,376.8 L623,369.6" fill="none" stroke="#ddd" stroke-width="0.8" stroke-dasharray="1.6 1.4"/>
<line x1="618.0" y1="321.5" x2="625" y2="324.8" stroke="#1a1a1a" stroke-width="2.6" stroke-linecap="butt"/>
<line x1="619.3" y1="322.1" x2="625" y2="324.8" stroke="#bbb" stroke-width="1.17" stroke-linecap="butt" stroke-dasharray="0.7 0.7"/>
<circle cx="616" cy="320.6" r="2.7" fill="#444" stroke="#111" stroke-width="1.1"/>
<circle cx="616.3" cy="320.40000000000003" r="1.13" fill="#ddd"/>
<polyline points="625.6,325 631.2,328.6 627.4,337.2" fill="none" stroke="#111" stroke-width="0.75" />
<rect x="632.6" y="315.4" width="3.6" height="3" rx="0.8" fill="#222" stroke="#111" stroke-width="0.8"/>
<polyline points="634.4,318.4 634.4,324.4" fill="none" stroke="#222" stroke-width="2.2" />
<polyline points="634.4,325 634.4,354.6" fill="none" stroke="#111" stroke-width="0.75" />
<path d="M648.6,334 Q652.4,332.4 654.2,334.4 Q653,338 650.6,339 Q652.6,340.6 651.6,343.6 Q649,346.6 646.4,345.6 Q644.6,343 645.6,339.6 Q646.4,336 648.6,334 Z" fill="#fff" stroke="#111" stroke-width="1.2" />
<path d="M649.4,335 Q647.4,339.6 648.6,344 M650.6,339 L647.4,340.4" fill="none" stroke="#111" stroke-width="0.8" />
<polyline points="645.2,337.2 639.8,346.5" fill="none" stroke="#111" stroke-width="0.85" />
<polyline points="646.6,338.4 641.4,347.4" fill="none" stroke="#111" stroke-width="0.85" />
<path d="M491,269.4 L534.2,299.4 Q535.8,302.4 533,304.4 L528,306 Q526.4,305.6 524,304.2 L489,281.6 Q484,281.4 481.4,278 Q479,273.6 481.6,270 Q484.6,267 489,268.2 Z" fill="#fff" stroke="#111" stroke-width="1.4" />
<path d="M483.6,272 L486.4,270.2 L489.4,271.2 L490.4,274.8 L488,277.4 L484.6,276.6 Z" fill="#fff" stroke="#111" stroke-width="1.0" />
<path d="M491.4,277.6 L496.6,280.8 M491,279.6 L496,282.8" fill="none" stroke="#111" stroke-width="0.8" />
<ellipse cx="529.6" cy="301.2" rx="1.8" ry="1.2" transform="rotate(30 529.6 301.2)" fill="#fff" stroke="#111" stroke-width="0.9"/>
<path d="M490.6,280.4 L526.6,303.6" fill="none" stroke="#555" stroke-width="0.6" />
<path d="M565.7,266.6 L571.6,270.6 L571.2,272.6 Q563,276.4 557.6,284 Q552,292.6 550.4,304 L549.6,319 L543.8,316.4 L543,303 Q544,292.6 548,285 Q553,275.4 562,269 Z" fill="#fff" stroke="#111" stroke-width="1.3" />
<path d="M567.6,270.4 Q558,276 553,285.6 Q548,295 546.8,306 L546.6,315.4" fill="none" stroke="#111" stroke-width="0.8" />
<path d="M569,271.4 Q560,277 555,286.6" fill="none" stroke="#111" stroke-width="0.6" />
<polyline points="539,287 546,283.2" fill="none" stroke="#111" stroke-width="2.6" />
<polyline points="539.6,286.6 545.6,283.4" fill="none" stroke="#bbb" stroke-width="0.9" stroke-dasharray="0.7 0.7"/>
<ellipse cx="537.2" cy="288" rx="2.2" ry="3" transform="rotate(-25 537.2 288)" fill="#fff" stroke="#111" stroke-width="1.1"/>
<polyline points="546.6,282.8 570,270" fill="none" stroke="#111" stroke-width="0.75" />
<path d="M591.9,236.4 Q592.6,234 595,233.9 L601.4,237.1 L603,240.4 L607.8,242.4 Q611,244.6 611.6,248 Q611.4,251.4 608.6,252.6 Q605.6,252.8 603.6,250 L592.6,239.6 Z" fill="#fff" stroke="#111" stroke-width="1.5" />
<path d="M593.4,237.2 L601.6,241 M603,240.4 L601.6,241" fill="none" stroke="#111" stroke-width="0.8" />
<circle cx="607.4" cy="247.6" r="2.3" fill="#fff" stroke="#111" stroke-width="1.0"/>
<circle cx="607.4" cy="247.6" r="0.9" fill="#ccc" stroke="#111" stroke-width="0.5"/>
<path d="M616.6,243.6 Q615.6,239.6 618,239.4 Q620.4,240 619.6,244.6" fill="none" stroke="#111" stroke-width="1.1" />
<path d="M594.6,251.2 L597.4,253 L597.2,257.4 L595.4,258.4 L593.2,255.6 Z" fill="#fff" stroke="#111" stroke-width="1.2" />
<circle cx="586.6" cy="260" r="3.2" fill="#bbb" stroke="#111" stroke-width="1.5"/>
<circle cx="586.4" cy="259.8" r="1.2" fill="#ddd" stroke="#111" stroke-width="0.5"/>
<circle cx="575.5" cy="266.3" r="2.8" fill="#bbb" stroke="#111" stroke-width="1.4"/>
<circle cx="575.3" cy="266.1" r="1.0" fill="#ddd" stroke="#111" stroke-width="0.5"/>
</svg>
</body></html>
